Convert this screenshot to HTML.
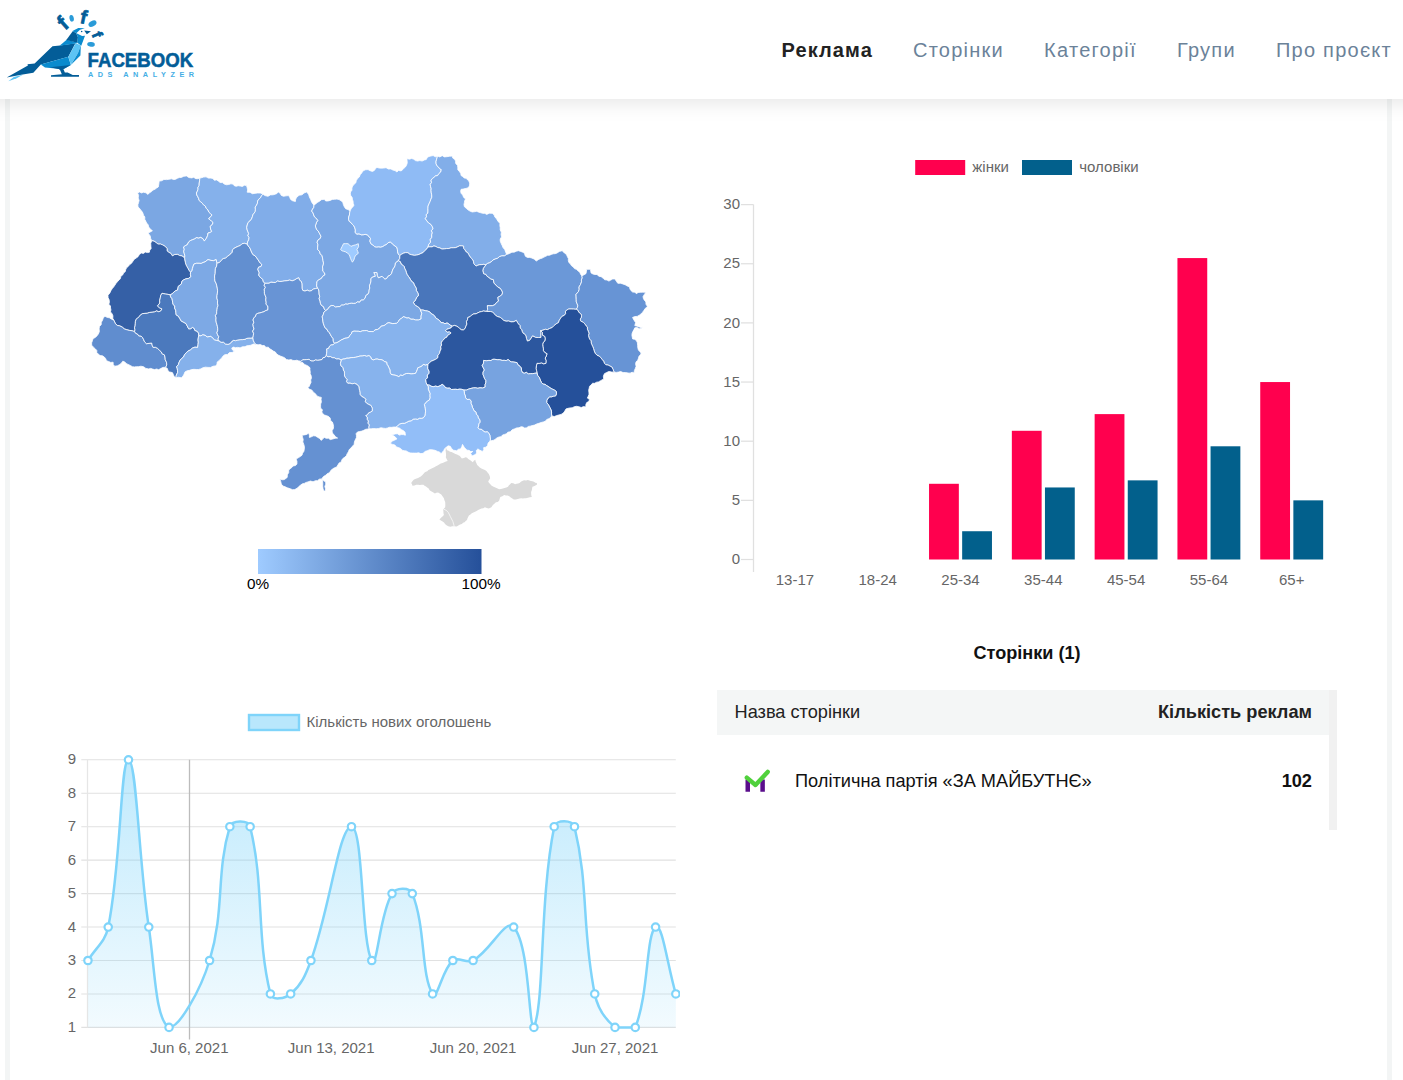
<!DOCTYPE html>
<html><head><meta charset="utf-8"><title>Facebook Ads Analyzer</title>
<style>
html,body{margin:0;padding:0;background:#fff;}
body{width:1403px;height:1080px;overflow:hidden;position:relative;font-family:"Liberation Sans",sans-serif;}
.abs{position:absolute;}
#hdr{left:-40px;top:0;width:1483px;height:99px;background:#fff;box-shadow:0 2px 21px rgba(0,0,0,.115);z-index:5;}
#hin{position:absolute;left:40px;top:0;width:1403px;height:99px;}
#nav{position:absolute;top:39px;right:11px;font-size:20px;letter-spacing:1.25px;color:#6b8299;white-space:nowrap;}
#nav span{margin-left:40.1px;}
#nav .on{color:#222;font-weight:bold;letter-spacing:1.1px;}
#bl,#br{top:99px;width:5px;height:981px;background:#f3f5f5;}
#bl{left:5px}#br{left:1387px}
#ttl{left:717px;width:620px;top:642.5px;text-align:center;font-weight:bold;font-size:18.1px;color:#111;}
#tbl{left:717px;top:690px;width:620px;height:140px;}
#th{left:0;top:0;width:612px;height:45px;background:#f4f6f6;}
#sb{left:612px;top:0;width:8px;height:140px;background:#f1f1f1;}
.t{font-size:18.2px;color:#111;white-space:nowrap;}
</style></head><body>
<div class="abs" id="bl"></div><div class="abs" id="br"></div>
<div class="abs" id="hdr"><div id="hin"><svg class="abs" style="left:0;top:0" width="220" height="99" viewBox="0 0 220 99" font-family="Liberation Sans, sans-serif">
<polygon points="8.33,81.25 13.75,77.08 22.92,74.83 16.67,78.17" fill="#5cc4f4"/>
<polygon points="52.50,46.25 60.00,45.42 75.42,43.33 68.33,56.67 40.83,64.58 33.33,72.67 21.25,74.75 6.67,77.50 27.92,65.42 27.50,64.17 34.58,63.50" fill="#035d98"/>
<polygon points="40.83,64.58 68.33,56.67 70.83,65.00 63.33,69.33 45.00,67.50" fill="#0a8bce"/>
<polygon points="50.00,67.33 70.83,65.00 62.08,69.83" fill="#035d98"/>
<polygon points="68.33,56.67 75.83,42.92 80.83,45.42 77.92,53.33 70.83,64.83" fill="#5cc4f4"/>
<polygon points="80.83,45.42 80.42,55.42 70.83,65.00 77.92,53.33" fill="#0a8bce"/>
<polygon points="59.58,45.67 66.67,39.83 77.50,42.50 75.42,43.50" fill="#0a8bce"/>
<polygon points="66.25,40.00 72.92,31.00 76.25,33.17 77.92,37.08 77.50,42.67" fill="#035d98"/>
<polygon points="76.00,33.00 82.08,36.00 85.00,35.67 81.25,45.67 77.33,42.67 77.92,37.08" fill="#0a8bce"/>
<polygon points="72.50,31.00 78.33,27.92 84.83,28.33 80.00,29.67 76.25,33.17" fill="#0a8bce"/>
<polygon points="84.17,30.42 91.00,31.25 86.83,34.33" fill="#035d98"/>
<polygon points="58.33,68.33 63.50,69.33 64.83,72.50 67.67,72.50 72.67,75.00 79.00,75.00 79.00,76.83 51.00,76.83 51.00,75.17 61.83,74.17 60.17,70.17" fill="#035d98"/>
<circle cx="81.67" cy="31.50" r="0.8" fill="#035d98"/>
<ellipse cx="71.67" cy="18.33" rx="2.17" ry="3.33" transform="rotate(-10 71.67 18.33)" fill="#2a9bd8"/>
<ellipse cx="92.50" cy="23.58" rx="4.33" ry="2.67" transform="rotate(-30 92.50 23.58)" fill="#2a9bd8"/>
<ellipse cx="91.00" cy="44.33" rx="3.83" ry="2.33" transform="rotate(5 91.00 44.33)" fill="#2a9bd8"/>
<text x="62.67" y="22.67" font-size="21" font-weight="bold" fill="#035d98" stroke="#035d98" stroke-width=".7" text-anchor="middle" transform="rotate(-42 62.67 22.67)" dy="7.56">f</text>
<text x="83.75" y="16.67" font-size="19" font-weight="bold" fill="#035d98" stroke="#035d98" stroke-width=".7" text-anchor="middle" transform="rotate(12 83.75 16.67)" dy="6.84">f</text>
<text x="97.33" y="34.58" font-size="15" font-weight="bold" fill="#035d98" stroke="#035d98" stroke-width=".7" text-anchor="middle" transform="rotate(68 97.33 34.58)" dy="5.40">f</text>
<text x="87.6" y="66.5" font-size="20.2" font-weight="bold" fill="#035d98" stroke="#035d98" stroke-width=".55" textLength="105.6" lengthAdjust="spacingAndGlyphs">FACEBOOK</text>
<text x="87.9" y="77" font-size="7.3" font-weight="bold" fill="#45aee5" textLength="106.2" lengthAdjust="spacing">ADS ANALYZER</text>
</svg>
<div id="nav"><span class="on">Реклама</span><span>Сторінки</span><span>Категорії</span><span>Групи</span><span>Про проєкт</span></div>
</div></div>
<svg class="abs" style="left:0;top:130px" width="700" height="480" viewBox="0 130 700 480">
<defs><linearGradient id="mg" x1="0" x2="1" y1="0" y2="0"><stop offset="0" stop-color="#9fcbff"/><stop offset="1" stop-color="#25509a"/></linearGradient></defs>
<g stroke="#fff" stroke-width=".8" stroke-linejoin="round">
<path d="M151.7,240.7 L150.66,238.39 L150.2,235.9 L148,233 L150.26,231.96 L152.4,230.7 L150.28,229.12 L148.7,227 L148.14,224.81 L146.65,223.09 L145.7,221.1 L144.72,219.23 L144.83,216.94 L143.5,215.2 L142.94,213.24 L142.07,211.45 L140.6,210 L139.5,208.33 L138,207 L137.87,204.72 L138.56,202.57 L139.1,200.4 L138.19,198.02 L138.56,195.37 L137.6,193 L139.46,191.96 L141.6,192.93 L143.5,192.2 L145.98,192.82 L148,194.4 L149.5,192.7 L151.53,191.62 L153.1,190 L154.97,189.24 L156.58,188.02 L158.3,187 L158.66,185.05 L158.97,183.09 L159.1,181.1 L161.6,180.76 L163.91,179.49 L166.5,179.6 L168.97,179.28 L171.43,178.83 L173.9,179.6 L175.78,179.15 L177.51,178.18 L179.33,177.55 L181.3,177.4 L183.8,176.3 L186.5,175.9 L188.85,177.56 L191.7,177.9 L193.74,177.36 L195.73,178.64 L197.76,178.69 L199.8,178.1 L199.58,180.6 L199.24,183.09 L199.1,185.6 L197.96,187.28 L198.02,189.4 L197.34,191.25 L196.4,193 L196.78,194.96 L197.77,196.69 L198.64,198.47 L199.1,200.4 L200.67,201.76 L202.23,203.14 L203.5,204.8 L205.4,206.19 L206.34,208.4 L208,210 L208.87,212.12 L210.5,213.65 L212.1,215.2 L210.24,216.9 L208.7,218.9 L210.33,219.93 L211.7,221.29 L213.1,222.6 L212.1,224.8 L210.2,226.3 L210.6,229 L211.7,231.5 L209.97,232.55 L208,233 L207.57,235.64 L206.5,238.1 L204.3,241.1 L202.99,238.71 L200.6,237.4 L198.66,238.15 L196.41,237.66 L194.6,238.9 L192.55,239.73 L190.48,240.53 L188.7,241.9 L187.2,244.8 L185.25,245.72 L183.5,247 L184.28,249.17 L183.7,251.51 L184.3,253.7 L184.83,255.77 L184.6,257.9 L182,255.9 L179.66,255.57 L177.6,254.4 L174.81,254.48 L172.4,255.9 L171.05,253.55 L168.7,252.2 L167.04,250.85 L167.18,248.46 L165.7,247 L164.17,245.74 L162.44,244.82 L160.6,244.1 L158.1,244.09 L156.1,242.6 L154.11,241.17 L151.7,240.7Z" fill="#7ba7e3"/>
<path d="M199.8,178.1 L201.67,177.67 L203.5,177.1 L206.05,176.85 L208.39,178.1 L210.9,178.1 L212.87,178.56 L214.34,180.25 L216.63,179.89 L218.3,181.1 L220.11,182.47 L222.54,182.62 L224.3,184.1 L226.53,184.74 L228.73,184.5 L230.9,183.8 L232.91,184.07 L234.26,185.68 L236.1,186.3 L238.15,185.71 L240.26,186.04 L242.38,186.44 L244.38,185.19 L246.5,185.6 L247.18,187.75 L247.65,189.93 L247.2,192.2 L249.99,192.28 L252.4,193.7 L255,193.35 L257.6,193 L260.31,193.02 L262.8,194.1 L261.5,195.85 L260.5,197.82 L258.72,199.22 L257.6,201.1 L257.45,203.26 L256.54,205.21 L255.22,207.05 L255.4,209.3 L255.27,211.4 L254.17,213.11 L252.89,214.74 L252.4,216.7 L251.47,219.06 L249.91,220.96 L248,222.6 L247.22,225.01 L246.7,227.45 L247.2,230 L247.95,231.78 L248.63,233.58 L247.89,235.74 L249.1,237.4 L248.73,239.71 L247.67,241.82 L247.2,244.1 L244.3,243.3 L242.02,243.74 L240.37,245.44 L238.3,246.3 L236.04,247.27 L233.9,248.5 L232.4,249.95 L232.28,252.18 L230.9,253.7 L229.15,255.15 L227.35,256.53 L225.7,258.1 L223.17,258.62 L221.3,260.4 L219.51,262.47 L216.9,263.3 L216.1,259.6 L213.61,260.68 L210.9,260.4 L208,259.6 L205,261.9 L203.07,262.5 L201.21,263.44 L199.1,263.3 L196.44,263.3 L193.9,264.1 L193.13,266.29 L192.4,268.5 L192.09,270.68 L190.5,272.2 L189.05,270.48 L188,268.5 L186.75,266.35 L185.7,264.1 L185.26,262.05 L184.72,260.01 L184.6,257.9 L184.83,255.77 L184.3,253.7 L183.7,251.51 L184.28,249.17 L183.5,247 L185.25,245.72 L187.2,244.8 L188.7,241.9 L190.48,240.53 L192.55,239.73 L194.6,238.9 L196.41,237.66 L198.66,238.15 L200.6,237.4 L202.99,238.71 L204.3,241.1 L206.5,238.1 L207.57,235.64 L208,233 L209.97,232.55 L211.7,231.5 L210.6,229 L210.2,226.3 L212.1,224.8 L213.1,222.6 L211.7,221.29 L210.33,219.93 L208.7,218.9 L210.24,216.9 L212.1,215.2 L210.5,213.65 L208.87,212.12 L208,210 L206.34,208.4 L205.4,206.19 L203.5,204.8 L202.23,203.14 L200.67,201.76 L199.1,200.4 L198.64,198.47 L197.77,196.69 L196.78,194.96 L196.4,193 L197.34,191.25 L198.02,189.4 L197.96,187.28 L199.1,185.6 L199.24,183.09 L199.58,180.6 L199.8,178.1Z" fill="#85b1eb"/>
<path d="M113.9,320.3 L112.8,318.3 L112.92,315.81 L112.03,313.72 L110.5,311.9 L110.95,309.88 L110.52,307.97 L110.44,306.01 L108.83,304.23 L109.4,302.2 L109.13,299.83 L108.07,297.61 L108,295.2 L109.76,293.15 L110.9,290.7 L112.11,288.79 L113.58,287.06 L114.86,285.19 L116.1,283.3 L117.43,281.65 L118.99,280.17 L120.43,278.6 L120.83,276.29 L122.66,275 L123.5,273 L125.19,271.72 L125.72,269.62 L126.55,267.73 L128.22,266.44 L129.4,264.8 L131.37,263.42 L132.78,261.48 L134.07,259.42 L136.1,258.1 L138.06,256.63 L139.37,254.5 L141.3,253 L143.39,253.41 L145.3,252.07 L147.39,252.55 L149.4,252.2 L149.72,250.19 L151.15,248.46 L150.9,246.3 L150.73,243.42 L151.7,240.7 L154.11,241.17 L156.1,242.6 L158.1,244.09 L160.6,244.1 L162.44,244.82 L164.17,245.74 L165.7,247 L167.18,248.46 L167.04,250.85 L168.7,252.2 L171.05,253.55 L172.4,255.9 L174.81,254.48 L177.6,254.4 L179.66,255.57 L182,255.9 L184.6,257.9 L184.72,260.01 L185.26,262.05 L185.7,264.1 L186.75,266.35 L188,268.5 L189.05,270.48 L190.5,272.2 L190.41,274.48 L190.9,276.7 L188.55,278.4 L185.7,278.9 L183.75,279.84 L182,281.1 L181.3,284.1 L178.3,286.3 L177.6,290 L175.55,290.79 L173.82,292.03 L172.4,293.7 L170.2,294.8 L167.96,294.37 L165.7,294.1 L162,293.3 L160.78,295.41 L160.3,297.8 L159.66,300.36 L159.8,303 L157.6,305.9 L159.47,307.88 L162,308.9 L160.6,311.1 L158.65,311.71 L156.5,310.89 L154.6,311.9 L152.11,312.26 L149.59,312.44 L147.2,313.3 L144.91,313.4 L142.65,313.63 L140.6,314.8 L139.36,316.56 L137.75,317.95 L136.1,319.3 L135.42,321.45 L135.3,323.68 L135.1,325.9 L134.53,327.76 L134.98,329.72 L134.6,331.6 L132.05,330.78 L129.4,330.4 L126.82,329.76 L124.3,328.9 L122.25,327.1 L119.8,325.9 L117.29,325.42 L115.4,323.7 L113.9,320.3Z" fill="#3560a6"/>
<path d="M113.9,320.3 L111.61,319.13 L109.4,317.8 L107.09,317.36 L105,316.3 L103.21,317.92 L102.55,320.25 L101.3,322.2 L101.19,324.64 L99.45,326.54 L99.1,328.9 L99.37,331.6 L98.3,334.1 L96.87,335.93 L95.27,337.55 L93.1,338.5 L92.43,340.69 L91.63,342.85 L91.7,345.2 L93.42,347.18 L95.4,348.9 L96.75,350.42 L96.85,352.64 L98.3,354.1 L100.04,355.6 L102.42,355.79 L104.3,357 L105.71,358.66 L106.5,360.7 L108.64,361.47 L110.73,362.44 L113.1,362.2 L113.23,364.43 L114.6,366.2 L117.4,365.87 L119.8,364.4 L121.55,363.04 L122.8,361.2 L124.76,361.9 L126.17,363.49 L128,364.4 L130.25,365.45 L132.4,366.7 L134.37,366.92 L136.33,366.68 L138.3,366.7 L140.9,366.23 L143.5,366.7 L145.85,368.39 L148.7,368.9 L150.75,368.4 L152.66,369.11 L154.6,369.6 L156.56,369 L158.72,369.67 L160.6,368.6 L163.01,367.4 L165.7,367.4 L166.78,364.9 L166.5,362.2 L165.25,359.74 L165,357 L164.38,354.86 L162.19,353.85 L161.3,351.9 L159.41,350.19 L157.6,348.4 L155.49,347.28 L153.1,347.4 L152.18,345.27 L151.7,343 L149.1,343.34 L146.5,343.7 L144.55,341.81 L143.5,339.3 L142.51,337.45 L141.06,336.12 L138.73,335.79 L137.6,334.1 L135.71,333.31 L134.6,331.6 L132.05,330.78 L129.4,330.4 L126.82,329.76 L124.3,328.9 L122.25,327.1 L119.8,325.9 L117.29,325.42 L115.4,323.7 L113.9,320.3Z" fill="#608dcf"/>
<path d="M165.7,367.4 L167.42,368.5 L167.92,370.61 L169.4,371.9 L172.4,372.6 L173.33,374.47 L174.08,376.45 L175.8,377.8 L176.34,375.07 L177.6,372.6 L177.56,370.58 L177.22,368.62 L176.6,366.7 L178.34,364.72 L179.1,362.2 L180.18,360.14 L181.7,358.45 L183.5,357 L184.55,354.69 L186.15,352.8 L188,351.1 L190.41,349.91 L192.4,348.1 L194.92,347.16 L197.6,347.4 L198,344.81 L198.3,342.2 L198.01,339.97 L198.31,337.78 L198.8,335.6 L198.54,333.06 L196.9,331.1 L194.9,330.47 L194.14,328.34 L192.4,327.4 L190.76,328.66 L188.7,328.9 L187.2,325.9 L185.9,323.5 L183.5,322.2 L181.1,320.9 L179.8,318.5 L178.38,316.22 L176.1,314.8 L175.88,312.5 L175.66,310.21 L174.6,308.1 L174.82,306.02 L173.1,304.52 L172.7,302.62 L172.4,300.7 L171.98,298.62 L170.6,296.89 L170.2,294.8 L167.96,294.37 L165.7,294.1 L162,293.3 L160.78,295.41 L160.3,297.8 L159.66,300.36 L159.8,303 L157.6,305.9 L159.47,307.88 L162,308.9 L160.6,311.1 L158.65,311.71 L156.5,310.89 L154.6,311.9 L152.11,312.26 L149.59,312.44 L147.2,313.3 L144.91,313.4 L142.65,313.63 L140.6,314.8 L139.36,316.56 L137.75,317.95 L136.1,319.3 L135.42,321.45 L135.3,323.68 L135.1,325.9 L134.53,327.76 L134.98,329.72 L134.6,331.6 L135.71,333.31 L137.6,334.1 L138.73,335.79 L141.06,336.12 L142.51,337.45 L143.5,339.3 L144.55,341.81 L146.5,343.7 L149.1,343.34 L151.7,343 L152.18,345.27 L153.1,347.4 L155.49,347.28 L157.6,348.4 L159.41,350.19 L161.3,351.9 L162.19,353.85 L164.38,354.86 L165,357 L165.25,359.74 L166.5,362.2 L166.78,364.9 L165.7,367.4Z" fill="#4b79bd"/>
<path d="M190.5,272.2 L192.09,270.68 L192.4,268.5 L193.13,266.29 L193.9,264.1 L196.44,263.3 L199.1,263.3 L201.21,263.44 L203.07,262.5 L205,261.9 L208,259.6 L210.9,260.4 L213.61,260.68 L216.1,259.6 L216.9,263.3 L216.67,266.05 L215.4,268.5 L215.25,270.98 L215.19,273.47 L214.6,275.9 L214.68,278.45 L214.88,280.98 L216.1,283.3 L216.81,285.72 L217.31,288.19 L217.6,290.7 L217.42,293.17 L217.02,295.62 L216.9,298.1 L217.61,300.55 L217.48,303.12 L218,305.6 L217.31,307.55 L217.02,309.62 L216.69,311.67 L216.64,313.79 L215.4,315.6 L216.12,317.74 L215.92,320.04 L216.21,322.25 L216.9,324.4 L217.43,326.45 L217.72,328.52 L217.7,330.61 L216.9,332.76 L217.6,334.8 L218.8,336.7 L217.96,339.09 L219.1,341 L216.86,340.47 L214.6,340 L212.69,338.21 L210.9,336.3 L207.2,337 L205.26,335.38 L202.8,334.8 L200.93,335.85 L198.8,335.6 L198.54,333.06 L196.9,331.1 L194.9,330.47 L194.14,328.34 L192.4,327.4 L190.76,328.66 L188.7,328.9 L187.2,325.9 L185.9,323.5 L183.5,322.2 L181.1,320.9 L179.8,318.5 L178.38,316.22 L176.1,314.8 L175.88,312.5 L175.66,310.21 L174.6,308.1 L174.82,306.02 L173.1,304.52 L172.7,302.62 L172.4,300.7 L171.98,298.62 L170.6,296.89 L170.2,294.8 L172.4,293.7 L173.82,292.03 L175.55,290.79 L177.6,290 L178.3,286.3 L181.3,284.1 L182,281.1 L183.75,279.84 L185.7,278.9 L188.55,278.4 L190.9,276.7 L190.41,274.48 L190.5,272.2Z" fill="#7da9e5"/>
<path d="M175.8,377.8 L178.55,377.21 L181.3,377.8 L183,376.13 L184.12,374.09 L185,371.9 L187.11,370.76 L189.46,370.36 L191.7,369.6 L193.92,369.34 L196.17,369.49 L198.41,369.54 L200.6,368.9 L202.94,367.76 L205.38,367.16 L208,367.4 L210.57,367.43 L212.91,366.29 L215.4,365.9 L216.98,364.41 L217.22,361.97 L219.1,360.7 L220.27,359.18 L221.84,357.99 L222.8,356.3 L224.79,354.69 L227.55,354.45 L229.4,352.6 L232.18,352.47 L234.6,351.1 L232.61,350.12 L231.7,348.1 L233.58,347.11 L235.64,347.7 L237.6,347.4 L240.13,347.87 L242.52,346.74 L245,346.7 L246.85,345.76 L248.9,345.58 L250.9,345.2 L253.33,344.06 L256,344.4 L254.32,342.5 L253.27,340.31 L252.9,337.8 L250.91,338.09 L248.86,338.07 L246.86,338.34 L245,339.3 L242.54,339.58 L240.06,339.65 L237.6,340 L235.67,340.64 L233.5,340.35 L231.7,341.5 L230.24,343.44 L228,344.4 L225.43,343.94 L223.5,342.2 L221.12,342.26 L219.1,341 L216.86,340.47 L214.6,340 L212.69,338.21 L210.9,336.3 L207.2,337 L205.26,335.38 L202.8,334.8 L200.93,335.85 L198.8,335.6 L198.31,337.78 L198.01,339.97 L198.3,342.2 L198,344.81 L197.6,347.4 L194.92,347.16 L192.4,348.1 L190.41,349.91 L188,351.1 L186.15,352.8 L184.55,354.69 L183.5,357 L181.7,358.45 L180.18,360.14 L179.1,362.2 L178.34,364.72 L176.6,366.7 L177.22,368.62 L177.56,370.58 L177.6,372.6 L176.34,375.07 L175.8,377.8Z" fill="#85b1eb"/>
<path d="M216.9,263.3 L219.51,262.47 L221.3,260.4 L223.17,258.62 L225.7,258.1 L227.35,256.53 L229.15,255.15 L230.9,253.7 L232.28,252.18 L232.4,249.95 L233.9,248.5 L236.04,247.27 L238.3,246.3 L240.37,245.44 L242.02,243.74 L244.3,243.3 L247.2,244.1 L248.32,246.12 L249.87,247.9 L250.76,250.03 L251.6,252.2 L252.86,254.47 L255.1,255.84 L256.7,257.8 L257.88,259.52 L259,261.29 L260.22,262.99 L261.8,264.4 L261.03,266.49 L258.57,267.2 L257.8,269.3 L258.46,271.1 L259.28,272.86 L258.71,274.96 L259.6,276.7 L261.35,278.01 L262.78,279.57 L263.42,281.77 L264.9,283.3 L264.14,285.27 L265.42,287.34 L264.29,289.28 L264.41,291.3 L264.4,293.3 L265.23,295.45 L266.02,297.6 L265.78,299.97 L266.2,302.2 L266,304.27 L267.76,305.94 L267.97,307.93 L267.8,310 L265.77,310.57 L263.93,311.72 L261.91,312.32 L259.9,312.95 L257.8,313.3 L256.05,314.43 L255.44,316.57 L253.8,317.8 L253.02,319.99 L253.82,322.27 L252.94,324.45 L253.3,326.7 L254.02,328.95 L252.63,331.12 L253.6,333.38 L253.32,335.59 L252.9,337.8 L250.91,338.09 L248.86,338.07 L246.86,338.34 L245,339.3 L242.54,339.58 L240.06,339.65 L237.6,340 L235.67,340.64 L233.5,340.35 L231.7,341.5 L230.24,343.44 L228,344.4 L225.43,343.94 L223.5,342.2 L221.12,342.26 L219.1,341 L217.96,339.09 L218.8,336.7 L217.6,334.8 L216.9,332.76 L217.7,330.61 L217.72,328.52 L217.43,326.45 L216.9,324.4 L216.21,322.25 L215.92,320.04 L216.12,317.74 L215.4,315.6 L216.64,313.79 L216.69,311.67 L217.02,309.62 L217.31,307.55 L218,305.6 L217.48,303.12 L217.61,300.55 L216.9,298.1 L217.02,295.62 L217.42,293.17 L217.6,290.7 L217.31,288.19 L216.81,285.72 L216.1,283.3 L214.88,280.98 L214.68,278.45 L214.6,275.9 L215.19,273.47 L215.25,270.98 L215.4,268.5 L216.67,266.05 L216.9,263.3Z" fill="#628fd0"/>
<path d="M262.8,194.1 L265,195.6 L268,196.3 L270.36,194.9 L273.1,194.8 L275.04,194.21 L276.93,193.53 L278.3,191.9 L280.12,193.26 L281.31,195.38 L283.5,196.3 L286.08,195.84 L288.7,195.6 L289.78,197.41 L290.62,199.39 L292.4,200.7 L295.4,201.5 L295.7,199.1 L296.9,197 L299.16,195.22 L302,194.8 L303.98,193.01 L306.5,192.1 L308.59,194.17 L309.4,197 L310.64,199.56 L311.7,202.2 L313.9,205.2 L313.81,207.41 L312.53,209.17 L311.7,211.1 L313.03,212.89 L313.71,214.99 L314.6,217 L316.59,218.59 L318,220.7 L316.62,222.17 L316.18,224.12 L315.4,225.9 L316.03,227.82 L316.74,229.7 L318.3,231.1 L319.21,232.83 L320.14,234.54 L321,236.3 L320.2,238.59 L318.02,239.98 L317.1,242.2 L317.95,244.62 L317.65,247.12 L317.6,249.6 L319.5,251.29 L320.24,253.82 L322,255.6 L322.57,258.05 L322.99,260.53 L323.5,263 L323.22,264.96 L322.49,266.87 L322.8,268.9 L322.81,271.13 L324.46,272.76 L325,274.8 L322.72,276.22 L321.3,278.5 L318.91,279.72 L316.9,281.5 L316.82,283.73 L316.61,285.98 L317.6,288.1 L315.46,288.61 L313.28,289.01 L311.58,290.7 L309.4,291.1 L307.28,290.14 L304.95,291.08 L302.8,290.4 L301.99,288.25 L301.97,285.96 L301.89,283.69 L301.3,281.5 L299.42,280.07 L298.8,277.8 L296.57,278.66 L294.6,280 L292.19,280.81 L289.63,280.09 L287.2,280.7 L284.72,280.86 L282.28,281.36 L279.8,281.5 L277.53,281.05 L275.4,282.5 L273.16,282.42 L270.9,282.2 L269.03,283.26 L266.97,283.31 L264.9,283.3 L263.42,281.77 L262.78,279.57 L261.35,278.01 L259.6,276.7 L258.71,274.96 L259.28,272.86 L258.46,271.1 L257.8,269.3 L258.57,267.2 L261.03,266.49 L261.8,264.4 L260.22,262.99 L259,261.29 L257.88,259.52 L256.7,257.8 L255.1,255.84 L252.86,254.47 L251.6,252.2 L250.76,250.03 L249.87,247.9 L248.32,246.12 L247.2,244.1 L247.67,241.82 L248.73,239.71 L249.1,237.4 L247.89,235.74 L248.63,233.58 L247.95,231.78 L247.2,230 L246.7,227.45 L247.22,225.01 L248,222.6 L249.91,220.96 L251.47,219.06 L252.4,216.7 L252.89,214.74 L254.17,213.11 L255.27,211.4 L255.4,209.3 L255.22,207.05 L256.54,205.21 L257.45,203.26 L257.6,201.1 L258.72,199.22 L260.5,197.82 L261.5,195.85 L262.8,194.1Z" fill="#81ade9"/>
<path d="M264.9,283.3 L266.97,283.31 L269.03,283.26 L270.9,282.2 L273.16,282.42 L275.4,282.5 L277.53,281.05 L279.8,281.5 L282.28,281.36 L284.72,280.86 L287.2,280.7 L289.63,280.09 L292.19,280.81 L294.6,280 L296.57,278.66 L298.8,277.8 L299.42,280.07 L301.3,281.5 L301.89,283.69 L301.97,285.96 L301.99,288.25 L302.8,290.4 L304.95,291.08 L307.28,290.14 L309.4,291.1 L311.58,290.7 L313.28,289.01 L315.46,288.61 L317.6,288.1 L318.76,289.94 L319.04,291.99 L319.1,294.1 L319.74,296.36 L319.12,298.79 L320.08,301 L320.4,303.3 L321.41,305.35 L323.52,306.63 L324.29,308.86 L325.6,310.7 L323.82,312.33 L323.25,314.65 L322.2,316.7 L322.61,318.89 L322.9,321.11 L323.3,323.3 L324.05,325.46 L324.87,327.59 L326.79,329.09 L327.8,331.1 L329.42,332.72 L330.5,334.72 L331.6,336.7 L333.17,338.63 L333.26,341.19 L334.4,343.3 L333.17,344.84 L330.91,344.98 L329.49,346.27 L328.67,348.37 L326.7,348.9 L326.85,351.16 L326.6,353.38 L326.2,355.6 L325.07,357.3 L323.02,357.68 L322,359.53 L320,360 L317.76,360.34 L315.41,359.98 L313.3,361.1 L311.03,360.93 L309.07,359.36 L306.7,359.6 L304.71,359.76 L302.68,359.75 L301,361.48 L298.9,361.1 L296.97,360.2 L294.91,360.61 L292.9,360.42 L290.97,359.59 L288.9,360 L286.4,359.43 L284.49,357.68 L282.2,356.7 L280.16,355.99 L278.24,355.09 L276.54,353.85 L275.26,351.93 L273.3,351.1 L271.64,349.8 L269.78,348.83 L268.35,347.18 L265.8,347.31 L264.4,345.6 L262.27,345.52 L260.27,344.53 L258.08,344.83 L256,344.4 L254.32,342.5 L253.27,340.31 L252.9,337.8 L253.32,335.59 L253.6,333.38 L252.63,331.12 L254.02,328.95 L253.3,326.7 L252.94,324.45 L253.82,322.27 L253.02,319.99 L253.8,317.8 L255.44,316.57 L256.05,314.43 L257.8,313.3 L259.9,312.95 L261.91,312.32 L263.93,311.72 L265.77,310.57 L267.8,310 L267.97,307.93 L267.76,305.94 L266,304.27 L266.2,302.2 L265.78,299.97 L266.02,297.6 L265.23,295.45 L264.4,293.3 L264.41,291.3 L264.29,289.28 L265.42,287.34 L264.14,285.27 L264.9,283.3Z" fill="#6894d5"/>
<path d="M313.9,205.2 L315.67,204.02 L317.17,202.46 L319.1,201.5 L321.41,199.71 L324.3,199.3 L325.7,201 L327.98,200.94 L330.2,200.4 L332.29,199.4 L334.6,199.3 L336.88,199.06 L339.1,199.6 L341.04,200.77 L342.8,202.2 L343.34,204.52 L344.3,206.7 L345.67,208.77 L348,209.6 L350.2,210.8 L349.63,212.85 L349.44,214.99 L348.7,217 L348.5,219.33 L349.4,221.5 L351.14,222.72 L352.39,224.45 L353.9,225.9 L354.81,227.87 L355.38,229.96 L355.2,232.29 L356.6,234.1 L359.04,233.82 L361.3,234.8 L363.27,234.71 L365.23,234.36 L367.2,234.8 L369.03,236.49 L370.5,238.5 L369.9,241.16 L370.9,243.7 L372.92,244.99 L374.6,246.7 L376.59,246.97 L378.61,246.77 L380.6,247 L382.72,246.47 L384.5,245.19 L386.5,244.4 L388.05,242.71 L390.2,241.9 L392.12,243.47 L393.9,245.2 L396.9,247.4 L397.4,249.63 L397.6,251.9 L398.3,253.99 L399.8,255.6 L399.8,258.37 L398.3,260.7 L395.4,263 L395.21,265.19 L394.42,267.15 L393.1,268.9 L392.25,271.05 L391.7,273.3 L390.17,275.2 L388,276.3 L386.92,278.22 L385,279.3 L383.46,277.84 L382,276.3 L380.2,277.17 L378.3,277.8 L377.16,275.32 L376.9,272.6 L373.9,272.6 L374.81,274.38 L375.4,276.3 L372.91,276.91 L370.9,278.5 L370.98,281.08 L370.39,283.53 L369.4,285.9 L369.79,288.08 L369.11,290.07 L368.99,292.16 L368,294.1 L365.83,295.58 L365.1,298.22 L363.3,300 L361.07,300.11 L359.68,302.19 L357.27,301.88 L355.6,303.3 L353.6,303.43 L351.58,303.28 L349.58,303.46 L347.63,304.23 L345.6,304 L343.79,305.08 L341.61,305.08 L339.94,306.58 L337.8,306.7 L335.44,307.1 L333.4,305.54 L331.1,305.6 L329.12,307.14 L327.69,309.28 L325.6,310.7 L324.29,308.86 L323.52,306.63 L321.41,305.35 L320.4,303.3 L320.08,301 L319.12,298.79 L319.74,296.36 L319.1,294.1 L319.04,291.99 L318.76,289.94 L317.6,288.1 L316.61,285.98 L316.82,283.73 L316.9,281.5 L318.91,279.72 L321.3,278.5 L322.72,276.22 L325,274.8 L324.46,272.76 L322.81,271.13 L322.8,268.9 L322.49,266.87 L323.22,264.96 L323.5,263 L322.99,260.53 L322.57,258.05 L322,255.6 L320.24,253.82 L319.5,251.29 L317.6,249.6 L317.65,247.12 L317.95,244.62 L317.1,242.2 L318.02,239.98 L320.2,238.59 L321,236.3 L320.14,234.54 L319.21,232.83 L318.3,231.1 L316.74,229.7 L316.03,227.82 L315.4,225.9 L316.18,224.12 L316.62,222.17 L318,220.7 L316.59,218.59 L314.6,217 L313.71,214.99 L313.03,212.89 L311.7,211.1 L312.53,209.17 L313.81,207.41 L313.9,205.2Z" fill="#7ca8e4"/>
<path d="M350.2,210.8 L351.08,208.7 L352.73,207.11 L353.9,205.2 L353.2,203.28 L353.06,201.23 L352.4,199.3 L352.15,197.4 L350.82,195.76 L350.29,193.93 L350.6,191.9 L351.92,190.24 L351.9,187.99 L352.69,186.1 L353.9,184.4 L355.81,182.85 L356.33,180.44 L357.6,178.5 L359.34,176.96 L360.17,174.78 L361.68,173.08 L362.8,171.1 L365.25,169.81 L368,169.6 L370.12,170.7 L372.4,171.4 L374.29,170.51 L375.42,168.76 L376.9,167.4 L379.06,168.02 L381.27,168.14 L383.5,168.1 L386.04,167.67 L388.39,169.04 L390.9,168.9 L392.83,170.03 L395.04,170.62 L396.9,171.9 L398.59,170.43 L401.05,170.91 L402.8,169.6 L404,168.11 L405.53,166.89 L406.5,165.2 L407.24,163 L407.11,160.75 L406.9,158.5 L409.3,159.17 L411.7,158.5 L413.73,159.18 L415.45,160.61 L417.6,161 L419.82,160.58 L422.17,161.02 L424.3,160 L426.26,159.52 L427.27,157.45 L428.95,156.5 L430.9,156 L433.13,155.55 L435.37,156.74 L437.6,156 L437.03,157.89 L436.47,159.78 L436.01,161.68 L436.1,163.7 L436.87,165.64 L438.41,166.9 L439.49,168.57 L441.3,169.6 L440.71,172 L438.88,173.63 L437.6,175.6 L435.52,175.95 L434.02,177.33 L432.4,178.5 L431.07,180.24 L431.51,182.65 L430.2,184.4 L430.55,186.47 L431.2,188.5 L431.03,190.65 L431.28,192.74 L431.7,194.8 L431.8,197.24 L430.84,199.38 L430.09,201.57 L429.1,203.7 L428.07,206.07 L427.95,208.57 L428,211.1 L427.84,213.14 L426.2,214.64 L426.52,216.85 L425.3,218.5 L426.85,220.86 L428.7,223 L430.97,224.43 L432.4,226.7 L433.02,228.79 L431.46,230.7 L432.34,232.82 L431.7,234.8 L431.78,237.33 L430.2,239.62 L430.6,242.2 L428.78,244.32 L428,247 L426.46,249.33 L424.3,251.1 L422.91,252.74 L420.92,253.44 L419.1,254.4 L416.66,255.08 L414.2,255.36 L411.7,254.8 L409.65,254.21 L407.93,252.71 L405.7,252.6 L403.52,253.17 L401.57,254.22 L399.8,255.6 L398.3,253.99 L397.6,251.9 L397.4,249.63 L396.9,247.4 L393.9,245.2 L392.12,243.47 L390.2,241.9 L388.05,242.71 L386.5,244.4 L384.5,245.19 L382.72,246.47 L380.6,247 L378.61,246.77 L376.59,246.97 L374.6,246.7 L372.92,244.99 L370.9,243.7 L369.9,241.16 L370.5,238.5 L369.03,236.49 L367.2,234.8 L365.23,234.36 L363.27,234.71 L361.3,234.8 L359.04,233.82 L356.6,234.1 L355.2,232.29 L355.38,229.96 L354.81,227.87 L353.9,225.9 L352.39,224.45 L351.14,222.72 L349.4,221.5 L348.5,219.33 L348.7,217 L349.44,214.99 L349.63,212.85 L350.2,210.8Z" fill="#8fbbf5"/>
<path d="M437.6,156 L439.82,156.94 L442.2,155.64 L444.4,156.88 L446.7,156.7 L449.45,156.32 L452.2,156 L452.75,158.09 L454.59,159.32 L455.6,161.1 L455.7,163.54 L457.58,165.4 L457.8,167.8 L457.9,170.06 L459.58,171.65 L460.74,173.45 L461.1,175.6 L462.8,176.5 L464.1,177.97 L466.21,178.29 L467.44,179.85 L468.9,181.1 L469.68,183.1 L469.59,185.1 L468.9,187.1 L467.09,188.16 L465.12,188.61 L463.15,189.1 L461.1,189.3 L460.65,191.3 L461.1,193.3 L462.7,195.08 L463.65,197.39 L465.6,198.9 L464.67,200.75 L464.38,202.7 L463.99,204.64 L464.4,206.7 L466.19,208.26 L467.96,209.85 L470,211.1 L472.15,211.98 L474.44,211.72 L476.75,211.36 L478.9,212.2 L480.84,212.78 L482.79,213.35 L484.89,213.36 L486.7,214.4 L489.32,213.21 L492.2,213.3 L494.09,214.85 L494.95,217.23 L496.7,218.9 L497.95,221.4 L500,223.3 L499.82,225.54 L500.25,227.76 L500.2,230 L501.39,232.16 L501.1,234.6 L501.59,236.88 L500.25,238.9 L500.2,241.1 L501.09,243.29 L502.13,245.41 L503,247.6 L504.8,249.63 L505.7,252.2 L506.7,254.4 L504.4,255.9 L501.78,255.88 L499.3,256.7 L497.71,258.24 L495.6,258.9 L493.05,259.95 L491.1,261.9 L489.37,262.87 L487.43,263.47 L485.9,264.8 L483.87,264.33 L481.83,264.64 L479.8,264.7 L477.87,265.19 L476.1,266.1 L473.8,263.8 L473.35,261.07 L471.9,258.7 L469.99,256.84 L468.7,254.5 L467.76,252.73 L465.93,251.68 L465,249.9 L463.56,248.33 L463.6,246.2 L461.62,245.84 L459.67,245.79 L457.8,246.7 L455.66,247.63 L453.39,247.79 L451.1,247.8 L448.93,248.54 L446.64,248.57 L444.4,248.9 L441.95,249.08 L439.8,247.9 L437.72,247.55 L435.89,246.5 L433.9,245.9 L432.05,246.88 L430,246.82 L428,247 L428.78,244.32 L430.6,242.2 L430.2,239.62 L431.78,237.33 L431.7,234.8 L432.34,232.82 L431.46,230.7 L433.02,228.79 L432.4,226.7 L430.97,224.43 L428.7,223 L426.85,220.86 L425.3,218.5 L426.52,216.85 L426.2,214.64 L427.84,213.14 L428,211.1 L427.95,208.57 L428.07,206.07 L429.1,203.7 L430.09,201.57 L430.84,199.38 L431.8,197.24 L431.7,194.8 L431.28,192.74 L431.03,190.65 L431.2,188.5 L430.55,186.47 L430.2,184.4 L431.51,182.65 L431.07,180.24 L432.4,178.5 L434.02,177.33 L435.52,175.95 L437.6,175.6 L438.88,173.63 L440.71,172 L441.3,169.6 L439.49,168.57 L438.41,166.9 L436.87,165.64 L436.1,163.7 L436.01,161.68 L436.47,159.78 L437.03,157.89 L437.6,156Z" fill="#82aee9"/>
<path d="M399.8,255.6 L401.57,254.22 L403.52,253.17 L405.7,252.6 L407.93,252.71 L409.65,254.21 L411.7,254.8 L414.2,255.36 L416.66,255.08 L419.1,254.4 L420.92,253.44 L422.91,252.74 L424.3,251.1 L426.46,249.33 L428,247 L430,246.82 L432.05,246.88 L433.9,245.9 L435.89,246.5 L437.72,247.55 L439.8,247.9 L441.95,249.08 L444.4,248.9 L446.64,248.57 L448.93,248.54 L451.1,247.8 L453.39,247.79 L455.66,247.63 L457.8,246.7 L459.67,245.79 L461.62,245.84 L463.6,246.2 L463.56,248.33 L465,249.9 L465.93,251.68 L467.76,252.73 L468.7,254.5 L469.99,256.84 L471.9,258.7 L473.35,261.07 L473.8,263.8 L476.1,266.1 L477.87,265.19 L479.8,264.7 L481.83,264.64 L483.87,264.33 L485.9,264.8 L484.67,266.64 L483.4,268.45 L483,270.7 L483.7,273.7 L485.89,274.29 L487.08,276.28 L488.9,277.4 L490.86,278.97 L493.3,279.6 L494.1,283.3 L496.03,285.07 L497.8,287 L500.02,288.04 L501.5,290 L502.49,292.1 L502.2,294.4 L500.12,296.08 L497.8,297.4 L498.5,301.1 L496.38,302.68 L494.8,304.8 L492.4,305.71 L489.91,305.76 L487.4,305.6 L487.46,307.6 L487.58,309.61 L486.7,311.5 L483.5,311 L481.68,311.59 L479.8,311.9 L477.92,312.79 L476.1,313.8 L473.63,313.95 L471.5,315.2 L469.92,316.79 L467.8,317.5 L467.52,319.74 L466.4,321.7 L466.9,324.08 L465.9,326.3 L465.1,328.5 L463.3,330 L461.26,329.73 L459.73,328.58 L458.36,327.13 L456.7,326.2 L454.45,325.42 L452.2,326.2 L450.44,325.27 L448.9,324 L447.07,322.94 L444.94,323.73 L443.1,322.73 L441.1,322.7 L439.67,320.61 L437.66,319.18 L435.6,317.8 L434.55,315.87 L432.93,314.6 L431.09,313.58 L429.8,311.93 L427.8,311.1 L425.34,310.71 L422.92,310.01 L420.4,310 L419.46,308 L417.71,306.75 L415.76,305.66 L414.3,304.14 L413.3,302.2 L414.93,300.97 L415.83,299.17 L416.65,297.3 L418.2,296 L418.3,294.1 L417.51,292.28 L416.33,290.61 L416.32,288.48 L415.4,286.7 L414.25,284.9 L413.56,282.79 L411.7,281.5 L410.6,279.77 L409.56,277.99 L408.4,276.3 L407.07,274.53 L406.35,272.48 L405.7,270.4 L404.79,268.64 L404.26,266.66 L402.8,265.2 L401.08,263.92 L400.32,261.68 L398.3,260.7 L399.8,258.37 L399.8,255.6Z" fill="#4976bb"/>
<path d="M398.3,260.7 L400.32,261.68 L401.08,263.92 L402.8,265.2 L404.26,266.66 L404.79,268.64 L405.7,270.4 L406.35,272.48 L407.07,274.53 L408.4,276.3 L409.56,277.99 L410.6,279.77 L411.7,281.5 L413.56,282.79 L414.25,284.9 L415.4,286.7 L416.32,288.48 L416.33,290.61 L417.51,292.28 L418.3,294.1 L418.2,296 L416.65,297.3 L415.83,299.17 L414.93,300.97 L413.3,302.2 L414.3,304.14 L415.76,305.66 L417.71,306.75 L419.46,308 L420.4,310 L421.8,313.3 L421.07,316.05 L421.1,318.9 L418.46,320.02 L415.6,320 L413.38,319.23 L410.9,319.24 L408.9,317.8 L406.91,318.08 L405.13,317.24 L403.3,316.7 L401.58,318.28 L399.55,319.55 L398.32,321.62 L396.7,323.3 L394.73,323.44 L392.75,323.64 L390.82,323.22 L388.9,322.7 L386.83,323.3 L385.26,325.04 L383.25,325.78 L381.1,326.2 L379.59,328.19 L377.57,329.44 L375.02,329.92 L373.3,331.6 L371.06,331.56 L368.81,331.56 L366.66,330.58 L364.4,330.7 L362.37,330.86 L360.38,331.65 L358.31,331.28 L356.26,331.26 L354.21,331.14 L352.2,331.6 L351.49,333.73 L349.87,335.32 L348.9,337.3 L346.96,337.99 L344.87,338.29 L343.01,339.2 L341.1,340 L339.05,341.47 L336.88,342.69 L334.4,343.3 L333.26,341.19 L333.17,338.63 L331.6,336.7 L330.5,334.72 L329.42,332.72 L327.8,331.1 L326.79,329.09 L324.87,327.59 L324.05,325.46 L323.3,323.3 L322.9,321.11 L322.61,318.89 L322.2,316.7 L323.25,314.65 L323.82,312.33 L325.6,310.7 L327.69,309.28 L329.12,307.14 L331.1,305.6 L333.4,305.54 L335.44,307.1 L337.8,306.7 L339.94,306.58 L341.61,305.08 L343.79,305.08 L345.6,304 L347.63,304.23 L349.58,303.46 L351.58,303.28 L353.6,303.43 L355.6,303.3 L357.27,301.88 L359.68,302.19 L361.07,300.11 L363.3,300 L365.1,298.22 L365.83,295.58 L368,294.1 L368.99,292.16 L369.11,290.07 L369.79,288.08 L369.4,285.9 L370.39,283.53 L370.98,281.08 L370.9,278.5 L372.91,276.91 L375.4,276.3 L374.81,274.38 L373.9,272.6 L376.9,272.6 L377.16,275.32 L378.3,277.8 L380.2,277.17 L382,276.3 L383.46,277.84 L385,279.3 L386.92,278.22 L388,276.3 L390.17,275.2 L391.7,273.3 L392.25,271.05 L393.1,268.9 L394.42,267.15 L395.21,265.19 L395.4,263 L398.3,260.7Z" fill="#7ca8e4"/>
<path d="M334.4,343.3 L336.88,342.69 L339.05,341.47 L341.1,340 L343.01,339.2 L344.87,338.29 L346.96,337.99 L348.9,337.3 L349.87,335.32 L351.49,333.73 L352.2,331.6 L354.21,331.14 L356.26,331.26 L358.31,331.28 L360.38,331.65 L362.37,330.86 L364.4,330.7 L366.66,330.58 L368.81,331.56 L371.06,331.56 L373.3,331.6 L375.02,329.92 L377.57,329.44 L379.59,328.19 L381.1,326.2 L383.25,325.78 L385.26,325.04 L386.83,323.3 L388.9,322.7 L390.82,323.22 L392.75,323.64 L394.73,323.44 L396.7,323.3 L398.32,321.62 L399.55,319.55 L401.58,318.28 L403.3,316.7 L405.13,317.24 L406.91,318.08 L408.9,317.8 L410.9,319.24 L413.38,319.23 L415.6,320 L418.46,320.02 L421.1,318.9 L421.07,316.05 L421.8,313.3 L420.4,310 L422.92,310.01 L425.34,310.71 L427.8,311.1 L429.8,311.93 L431.09,313.58 L432.93,314.6 L434.55,315.87 L435.6,317.8 L437.66,319.18 L439.67,320.61 L441.1,322.7 L443.1,322.73 L444.94,323.73 L447.07,322.94 L448.9,324 L450.44,325.27 L452.2,326.2 L450.95,327.92 L449.01,328.62 L447,329.21 L445.6,330.7 L447.21,331.99 L449.46,331.68 L451.1,332.9 L449.55,334.28 L447.7,335.37 L446.7,337.3 L444.76,338.04 L443.63,339.75 L442.2,341.1 L441.19,342.95 L441.66,345 L440.67,346.85 L441.1,348.9 L440.07,351.05 L439.5,353.37 L437.98,355.34 L437.8,357.8 L435.67,359.31 L433.3,360.4 L431.14,361.28 L429.47,362.84 L427.8,364.4 L425.55,365.15 L423.3,364.4 L421.84,366.14 L419.89,367.08 L417.8,367.8 L417.27,369.71 L416.51,371.54 L415.6,373.3 L413.38,373.71 L411.14,373.93 L408.83,373.46 L406.57,373.46 L404.4,374.4 L402.7,375.48 L400.43,375.2 L398.9,376.7 L397.03,375.85 L395.11,375.18 L393.07,374.91 L391.1,374.4 L390.04,372.31 L389.94,369.9 L388.9,367.8 L388.15,365.94 L386.89,364.28 L386.7,362.2 L384.66,361.7 L383.02,360.35 L381.1,359.6 L379.14,359.58 L377.16,359.01 L375.22,359.22 L373.3,360 L371.4,358.97 L370.6,356.83 L368.9,355.6 L366.73,356.32 L364.41,355.53 L362.22,356.03 L359.98,356.09 L357.8,356.7 L355.61,357.31 L353.37,357.55 L351.1,357.66 L348.9,358.2 L346.84,358.17 L344.96,358.92 L342.95,359.1 L341.1,360 L338.99,358.89 L336.48,358.99 L334.4,357.8 L332.23,357.71 L330.34,356.54 L328.07,356.83 L326.2,355.6 L326.6,353.38 L326.85,351.16 L326.7,348.9 L328.67,348.37 L329.49,346.27 L330.91,344.98 L333.17,344.84 L334.4,343.3Z" fill="#87b3ed"/>
<path d="M506.7,254.4 L509.41,253.56 L511.9,252.2 L514.2,252.14 L516.31,251.23 L518.5,250.7 L520.74,251.47 L523,252.2 L524.6,253.82 L525.33,256.18 L527.4,257.4 L529.7,257.42 L531.9,258.1 L534.42,259.14 L536.3,261.1 L538.09,259.76 L540.06,258.76 L542.2,258.1 L543.95,257.12 L545.76,256.3 L547.52,255.34 L549.6,255.2 L551.37,254.38 L553.21,253.81 L555.18,253.66 L557,253 L559.41,251.41 L562.2,250.7 L564.4,253 L566.43,254.42 L567.4,256.7 L568.36,258.55 L568.33,260.65 L568.9,262.6 L570.49,263.94 L571.57,265.8 L573.3,267 L574.49,268.61 L576.39,269.36 L577.8,270.7 L579.75,272.15 L580.7,274.4 L581.9,275.9 L582.28,277.93 L581.38,279.88 L581.5,281.9 L580.49,284.57 L579,287 L579.23,289.3 L578.5,291.5 L577.26,292.96 L576,294.4 L576.11,296.9 L576.23,299.4 L576.3,301.9 L577.11,303.72 L577.8,305.6 L577.4,307.59 L576.3,309.3 L573.7,309.11 L571.1,309 L568.79,309.02 L566.7,310 L565.44,311.64 L565.6,313.7 L564.19,315.42 L562.05,316.32 L560.7,318.1 L559.31,320.21 L558.5,322.6 L556.15,323.89 L554.1,325.6 L552.19,327.57 L549.6,328.5 L547.54,329.64 L545.2,329.3 L543.01,330.18 L540.7,330.7 L541.02,332.92 L540.93,335.17 L541,337.4 L538.3,337.53 L535.6,337.4 L532.6,335.9 L531.17,338.2 L529.6,340.4 L527.4,341.1 L526.51,338.54 L525.9,335.9 L524.86,334.27 L523.14,333.21 L522.2,331.5 L521.67,329.46 L520,327.84 L520,325.6 L518.51,324.05 L517.32,322.29 L516.3,320.4 L513.86,321.7 L511.1,321.9 L508.71,321.02 L506.11,321.2 L503.7,320.4 L501.98,318.77 L500.15,317.31 L497.8,316.7 L495.7,315.51 L494.1,313.7 L492.57,312.06 L490.4,311.5 L486.7,311.5 L487.58,309.61 L487.46,307.6 L487.4,305.6 L489.91,305.76 L492.4,305.71 L494.8,304.8 L496.38,302.68 L498.5,301.1 L497.8,297.4 L500.12,296.08 L502.2,294.4 L502.49,292.1 L501.5,290 L500.02,288.04 L497.8,287 L496.03,285.07 L494.1,283.3 L493.3,279.6 L490.86,278.97 L488.9,277.4 L487.08,276.28 L485.89,274.29 L483.7,273.7 L483,270.7 L483.4,268.45 L484.67,266.64 L485.9,264.8 L487.43,263.47 L489.37,262.87 L491.1,261.9 L493.05,259.95 L495.6,258.9 L497.71,258.24 L499.3,256.7 L501.78,255.88 L504.4,255.9 L506.7,254.4Z" fill="#6b98d8"/>
<path d="M581.9,275.9 L583.92,274.84 L585.9,273.7 L586.43,271.52 L586.7,269.3 L590.4,269.3 L591.1,273 L592.94,274 L594.89,274.55 L597,274.4 L598.68,276.15 L601.11,276.68 L603,278.1 L604.64,279.74 L606.99,279.99 L608.9,281.1 L610.76,280.08 L612.61,279.03 L614.8,278.9 L616.28,281.11 L617.8,283.3 L620.38,283.26 L622.81,283.95 L625.2,284.8 L627.32,286.06 L629.6,287 L629.94,289.02 L631.1,290.7 L632.63,292.05 L634.9,292.13 L636.3,293.7 L638.09,292.52 L640.14,292.32 L642.2,292.2 L645.9,292.2 L644.38,294.4 L643,296.7 L643.49,298.7 L644.51,300.4 L645.9,301.9 L645.99,304.32 L647.4,306.3 L646.06,307.68 L644.77,309.09 L643.7,310.7 L642.47,312.43 L640.98,313.91 L639.3,315.2 L637.21,316.38 L634.82,316.61 L632.6,317.4 L633.45,319.22 L634.5,320.93 L635.6,322.6 L634.8,325.6 L637.09,326.17 L639.3,326.95 L641.5,327.8 L643,325.6 L641.5,328.5 L639.22,328.67 L637.09,327.53 L634.8,327.8 L633.95,329.6 L632.98,331.35 L632.16,333.17 L631.9,335.2 L632.6,338.9 L634.58,339.33 L636.3,340.4 L637.4,342.74 L637.64,345.26 L637.8,347.8 L638.39,349.89 L639.68,351.52 L641.2,353 L640.43,354.77 L639.01,356.19 L638.5,358.1 L637.76,360.21 L636.04,361.85 L635.6,364.1 L636.1,366.34 L635.3,368.5 L634.33,370.65 L634.1,373 L632.1,372.23 L630.1,373.13 L628.1,373 L625.62,372.56 L623.05,372.58 L620.7,371.5 L618.54,372.09 L616.34,372.39 L614.1,372.2 L613.1,369.56 L611.9,367 L609.97,366.07 L608.07,365.06 L605.9,364.8 L604.38,363.27 L603.63,361.19 L602.2,359.6 L600.87,357.66 L599.16,356.17 L597,355.2 L595.13,353.22 L594.1,350.7 L593.59,348.65 L592.81,346.7 L591.9,344.8 L591.16,342.95 L591.09,340.82 L589.69,339.23 L588.9,337.4 L588.51,335.33 L589,333.14 L588.21,331.13 L587.39,329.13 L587.4,327 L585.93,325.73 L584.93,324.07 L583.7,322.6 L580.7,321.1 L580.26,319.04 L581.4,317.19 L581.5,315.2 L580.48,313.48 L578.81,312.33 L578.02,310.41 L576.3,309.3 L577.4,307.59 L577.8,305.6 L577.11,303.72 L576.3,301.9 L576.23,299.4 L576.11,296.9 L576,294.4 L577.26,292.96 L578.5,291.5 L579.23,289.3 L579,287 L580.49,284.57 L581.5,281.9 L581.38,279.88 L582.28,277.93 L581.9,275.9Z" fill="#6794d5"/>
<path d="M614.1,372.2 L611.49,371.93 L608.9,371.5 L606.61,372.51 L604.4,373.7 L603.38,376.21 L603.7,378.9 L601.99,379.95 L600.23,380.89 L598.5,381.9 L596.5,382.23 L594.68,383.32 L592.6,383.3 L591.09,384.79 L589.6,386.3 L589.16,388.24 L588.67,390.18 L588.9,392.2 L589.03,394.33 L588.2,396.21 L587.4,398.1 L589.6,399.6 L588.62,401.56 L586.7,402.6 L585.81,404.71 L585.9,407 L583.58,406.59 L581.2,407.53 L578.9,406.7 L576.54,406.31 L574.31,406.7 L572.2,407.8 L570.09,407.92 L568.03,408.35 L566,408.9 L564.78,411.1 L563.31,413.08 L561.1,414.4 L558.89,414.96 L556.7,415.6 L554.31,416.5 L551.8,416 L551.53,414 L551.58,411.97 L551.1,410 L549.6,407 L548.37,404.65 L546.7,402.6 L546.85,400.18 L548.1,398.1 L549.75,396.8 L551.79,396.81 L553.62,396.1 L555.6,395.9 L556.44,393.78 L556.3,391.5 L554.72,390.24 L552.91,389.36 L551.1,388.5 L548.95,386.97 L546.7,385.6 L545.1,384.38 L542.95,384.09 L541.5,382.6 L540.31,380.04 L539.3,377.4 L537.67,375.45 L537,373 L536.61,370.73 L536,368.5 L536.39,365.88 L537,363.3 L539.23,363.42 L541.45,362.83 L543.67,363.8 L545.9,363.3 L546.06,360.63 L545.2,358.1 L546.33,355.99 L547,353.7 L544.85,352.62 L543.4,350.7 L543.33,348.67 L542.92,346.66 L542.7,344.64 L543,342.6 L544.72,341.12 L545.2,338.9 L544.77,336.47 L542.31,335.15 L542.33,332.47 L540.7,330.7 L543.01,330.18 L545.2,329.3 L547.54,329.64 L549.6,328.5 L552.19,327.57 L554.1,325.6 L556.15,323.89 L558.5,322.6 L559.31,320.21 L560.7,318.1 L562.05,316.32 L564.19,315.42 L565.6,313.7 L565.44,311.64 L566.7,310 L568.79,309.02 L571.1,309 L573.7,309.11 L576.3,309.3 L578.02,310.41 L578.81,312.33 L580.48,313.48 L581.5,315.2 L581.4,317.19 L580.26,319.04 L580.7,321.1 L583.7,322.6 L584.93,324.07 L585.93,325.73 L587.4,327 L587.39,329.13 L588.21,331.13 L589,333.14 L588.51,335.33 L588.9,337.4 L589.69,339.23 L591.09,340.82 L591.16,342.95 L591.9,344.8 L592.81,346.7 L593.59,348.65 L594.1,350.7 L595.13,353.22 L597,355.2 L599.16,356.17 L600.87,357.66 L602.2,359.6 L603.63,361.19 L604.38,363.27 L605.9,364.8 L608.07,365.06 L609.97,366.07 L611.9,367 L613.1,369.56 L614.1,372.2Z" fill="#25509a"/>
<path d="M537,373 L534.81,373.29 L532.62,373.67 L530.4,373.7 L528.25,373.89 L526.41,372.37 L524.11,373.35 L522.2,372.2 L521.47,370.23 L521.33,368.04 L520,366.3 L517.98,364.87 L517,362.6 L515.04,362.28 L513.09,361.95 L511.1,361.9 L508.1,359.6 L506.23,360.59 L504.19,360.33 L502.2,360.4 L499.78,359.71 L497.26,359.74 L494.8,359.3 L492.77,359.31 L490.97,360.57 L488.9,360.4 L486.3,360.82 L483.7,360.4 L483.55,363.17 L482.2,365.6 L483.29,367.8 L484.4,370 L483.05,371.99 L483,374.4 L483.84,376.46 L484.54,378.59 L485.9,380.4 L485.85,382.62 L485.04,384.76 L485.2,387 L482.7,388.03 L480,387.8 L477.8,388.28 L475.53,387.82 L473.3,387.89 L471.1,388.4 L468.69,389.06 L466.37,390.11 L463.8,390 L461.79,389.36 L459.74,389.14 L457.65,389.5 L455.6,389.3 L453.54,389.38 L451.48,389.49 L449.64,388.14 L447.59,388.15 L445.6,387.8 L444.19,385.81 L442.2,384.4 L440.09,385.73 L437.8,386.7 L435.6,386.1 L433.31,386.73 L431.1,386.2 L429.25,385.09 L427.1,384.9 L425.93,382.37 L425.6,379.6 L427.36,377.84 L427.27,375.12 L428.9,373.3 L428.95,371.03 L427.69,368.93 L427.67,366.67 L427.8,364.4 L429.47,362.84 L431.14,361.28 L433.3,360.4 L435.67,359.31 L437.8,357.8 L437.98,355.34 L439.5,353.37 L440.07,351.05 L441.1,348.9 L440.67,346.85 L441.66,345 L441.19,342.95 L442.2,341.1 L443.63,339.75 L444.76,338.04 L446.7,337.3 L447.7,335.37 L449.55,334.28 L451.1,332.9 L449.46,331.68 L447.21,331.99 L445.6,330.7 L447,329.21 L449.01,328.62 L450.95,327.92 L452.2,326.2 L454.45,325.42 L456.7,326.2 L458.36,327.13 L459.73,328.58 L461.26,329.73 L463.3,330 L465.1,328.5 L465.9,326.3 L466.9,324.08 L466.4,321.7 L467.52,319.74 L467.8,317.5 L469.92,316.79 L471.5,315.2 L473.63,313.95 L476.1,313.8 L477.92,312.79 L479.8,311.9 L481.68,311.59 L483.5,311 L486.7,311.5 L490.4,311.5 L492.57,312.06 L494.1,313.7 L495.7,315.51 L497.8,316.7 L500.15,317.31 L501.98,318.77 L503.7,320.4 L506.11,321.2 L508.71,321.02 L511.1,321.9 L513.86,321.7 L516.3,320.4 L517.32,322.29 L518.51,324.05 L520,325.6 L520,327.84 L521.67,329.46 L522.2,331.5 L523.14,333.21 L524.86,334.27 L525.9,335.9 L526.51,338.54 L527.4,341.1 L529.6,340.4 L531.17,338.2 L532.6,335.9 L535.6,337.4 L538.3,337.53 L541,337.4 L540.93,335.17 L541.02,332.92 L540.7,330.7 L542.33,332.47 L542.31,335.15 L544.77,336.47 L545.2,338.9 L544.72,341.12 L543,342.6 L542.7,344.64 L542.92,346.66 L543.33,348.67 L543.4,350.7 L544.85,352.62 L547,353.7 L546.33,355.99 L545.2,358.1 L546.06,360.63 L545.9,363.3 L543.67,363.8 L541.45,362.83 L539.23,363.42 L537,363.3 L536.39,365.88 L536,368.5 L536.61,370.73 L537,373Z" fill="#2c579f"/>
<path d="M463.8,390 L466.37,390.11 L468.69,389.06 L471.1,388.4 L473.3,387.89 L475.53,387.82 L477.8,388.28 L480,387.8 L482.7,388.03 L485.2,387 L485.04,384.76 L485.85,382.62 L485.9,380.4 L484.54,378.59 L483.84,376.46 L483,374.4 L483.05,371.99 L484.4,370 L483.29,367.8 L482.2,365.6 L483.55,363.17 L483.7,360.4 L486.3,360.82 L488.9,360.4 L490.97,360.57 L492.77,359.31 L494.8,359.3 L497.26,359.74 L499.78,359.71 L502.2,360.4 L504.19,360.33 L506.23,360.59 L508.1,359.6 L511.1,361.9 L513.09,361.95 L515.04,362.28 L517,362.6 L517.98,364.87 L520,366.3 L521.33,368.04 L521.47,370.23 L522.2,372.2 L524.11,373.35 L526.41,372.37 L528.25,373.89 L530.4,373.7 L532.62,373.67 L534.81,373.29 L537,373 L537.67,375.45 L539.3,377.4 L540.31,380.04 L541.5,382.6 L542.95,384.09 L545.1,384.38 L546.7,385.6 L548.95,386.97 L551.1,388.5 L552.91,389.36 L554.72,390.24 L556.3,391.5 L556.44,393.78 L555.6,395.9 L553.62,396.1 L551.79,396.81 L549.75,396.8 L548.1,398.1 L546.85,400.18 L546.7,402.6 L548.37,404.65 L549.6,407 L551.1,410 L551.58,411.97 L551.53,414 L551.8,416 L550.34,417.38 L548.92,418.81 L546.8,419.4 L545.6,421.1 L543.39,421.92 L541.12,422.52 L538.9,423.3 L536.64,423.99 L534.52,425.08 L532.2,425.6 L530.28,426.13 L528.3,426.47 L526.7,427.8 L524.7,428.11 L522.99,426.97 L521.1,426.7 L518.98,427.79 L516.56,427.93 L514.4,428.9 L512.11,429.82 L510.33,431.75 L507.8,432.2 L506.47,433.84 L504.42,434.41 L502.46,435.1 L501.1,436.7 L499.09,436.99 L497.24,437.69 L495.6,438.9 L493.95,440.17 L491.95,440.59 L490,441.1 L490.44,439.05 L490.08,437.11 L489.87,435.15 L488.9,433.3 L487.32,431.83 L485.06,432.1 L483.3,431.1 L481.81,429.43 L479.45,429.2 L477.8,427.8 L478.62,425.97 L478.73,423.86 L480,422.2 L479.8,419.82 L478.3,417.88 L477.8,415.6 L476.25,414.21 L475.95,411.98 L474.02,410.85 L473.3,408.9 L472.28,407.08 L471.89,405.09 L470.9,403.26 L471.1,401.1 L469.66,399.34 L467.09,399.48 L465.6,397.8 L465.3,395.82 L464.5,393.95 L464.29,391.94 L463.8,390Z" fill="#77a3e0"/>
<path d="M463.8,390 L464.29,391.94 L464.5,393.95 L465.3,395.82 L465.6,397.8 L467.09,399.48 L469.66,399.34 L471.1,401.1 L470.9,403.26 L471.89,405.09 L472.28,407.08 L473.3,408.9 L474.02,410.85 L475.95,411.98 L476.25,414.21 L477.8,415.6 L478.3,417.88 L479.8,419.82 L480,422.2 L478.73,423.86 L478.62,425.97 L477.8,427.8 L479.45,429.2 L481.81,429.43 L483.3,431.1 L485.06,432.1 L487.32,431.83 L488.9,433.3 L489.87,435.15 L490.08,437.11 L490.44,439.05 L490,441.1 L488.11,443.05 L487.5,445.7 L485.86,447.16 L483.7,447.6 L483.77,449.75 L482.4,451.4 L479.8,450.2 L477.9,448.9 L476.31,450.47 L476.63,452.91 L475.3,454.6 L472.1,455.9 L470.6,453.4 L472.8,451.4 L470.74,451.59 L468.98,450.36 L467,450.2 L464.4,447.6 L462.5,444.4 L461.78,446.75 L460.6,448.9 L458.38,449.29 L456.7,450.8 L453.5,450.2 L451.57,448.52 L450.3,446.3 L448.29,445.87 L446.5,446.9 L444.5,448.9 L443.68,450.75 L442.23,452.21 L441.3,454 L439.79,452.13 L437.5,451.4 L434.99,450.32 L432.3,449.8 L429.62,449.63 L427.2,450.8 L424.93,451.43 L423.22,453.33 L420.8,453.6 L418.71,452.82 L416.54,453.12 L414.4,453.1 L412.22,453.07 L410.06,452.92 L408,452.1 L406.24,450.93 L404.17,450.71 L402.2,450.2 L400.61,448.49 L398.55,447.62 L396.4,446.9 L394.91,445.03 L392.6,444.4 L390,443.4 L392.4,441.1 L394.7,440.1 L396.9,438.9 L395.4,437.1 L393.3,435.62 L390.9,434.7 L393.18,434.48 L395.4,433.9 L397.41,433.75 L399.25,435.09 L401.3,434.6 L403.39,434.6 L405.4,435.2 L405,432.2 L403.4,430.58 L401.3,429.7 L399.85,428.18 L397.87,427.75 L396,427.1 L397.87,425.51 L399.72,423.89 L402.2,423.3 L404.66,423.26 L406.8,422.24 L408.9,421.1 L411.27,420.77 L413.22,419.19 L415.6,418.9 L417.62,419.31 L419.43,418.21 L421.4,418.28 L423.3,417.8 L424.82,415.82 L425.23,413.47 L425.6,411.1 L425.19,408.87 L424.78,406.64 L424.4,404.4 L425.7,402.57 L427.35,401.12 L429.3,400 L429.99,397.81 L429.8,395.54 L430,393.3 L429.07,391.27 L428.26,389.2 L428.33,386.83 L427.1,384.9 L429.25,385.09 L431.1,386.2 L433.31,386.73 L435.6,386.1 L437.8,386.7 L440.09,385.73 L442.2,384.4 L444.19,385.81 L445.6,387.8 L447.59,388.15 L449.64,388.14 L451.48,389.49 L453.54,389.38 L455.6,389.3 L457.65,389.5 L459.74,389.14 L461.79,389.36 L463.8,390Z" fill="#92bef8"/>
<path d="M427.1,384.9 L428.33,386.83 L428.26,389.2 L429.07,391.27 L430,393.3 L429.8,395.54 L429.99,397.81 L429.3,400 L427.35,401.12 L425.7,402.57 L424.4,404.4 L424.78,406.64 L425.19,408.87 L425.6,411.1 L425.23,413.47 L424.82,415.82 L423.3,417.8 L421.4,418.28 L419.43,418.21 L417.62,419.31 L415.6,418.9 L413.22,419.19 L411.27,420.77 L408.9,421.1 L406.8,422.24 L404.66,423.26 L402.2,423.3 L399.72,423.89 L397.87,425.51 L396,427.1 L393.9,427 L391.66,427.34 L389.4,427.3 L387.5,428.03 L385.55,428.43 L383.5,428.2 L380.98,427.74 L378.56,428.48 L376.1,428.8 L373.7,428.53 L371.3,428.78 L368.9,428.9 L368.71,426.95 L369.25,424.96 L367.78,423.1 L368.4,421.1 L367.16,419.42 L367.19,417.1 L365.6,415.6 L367.4,414.69 L368.57,412.86 L370.41,412.02 L372.2,411.1 L372.25,408.23 L371.1,405.6 L368.86,404.53 L366.7,403.3 L365.24,401.76 L365.75,399.39 L364.4,397.8 L361.84,396.57 L360,394.4 L359.95,392.44 L359.64,390.52 L359.11,388.63 L358.9,386.7 L357.1,384.41 L354.4,383.3 L352.2,383.82 L350,383.13 L347.8,383.3 L346.49,381.7 L347.03,379.36 L345.6,377.8 L344.48,376.01 L344.47,373.89 L344.39,371.8 L343.3,370 L342.9,367.52 L340.78,365.79 L340.4,363.3 L341.1,360 L342.95,359.1 L344.96,358.92 L346.84,358.17 L348.9,358.2 L351.1,357.66 L353.37,357.55 L355.61,357.31 L357.8,356.7 L359.98,356.09 L362.22,356.03 L364.41,355.53 L366.73,356.32 L368.9,355.6 L370.6,356.83 L371.4,358.97 L373.3,360 L375.22,359.22 L377.16,359.01 L379.14,359.58 L381.1,359.6 L383.02,360.35 L384.66,361.7 L386.7,362.2 L386.89,364.28 L388.15,365.94 L388.9,367.8 L389.94,369.9 L390.04,372.31 L391.1,374.4 L393.07,374.91 L395.11,375.18 L397.03,375.85 L398.9,376.7 L400.43,375.2 L402.7,375.48 L404.4,374.4 L406.57,373.46 L408.83,373.46 L411.14,373.93 L413.38,373.71 L415.6,373.3 L416.51,371.54 L417.27,369.71 L417.8,367.8 L419.89,367.08 L421.84,366.14 L423.3,364.4 L425.55,365.15 L427.8,364.4 L427.67,366.67 L427.69,368.93 L428.95,371.03 L428.9,373.3 L427.27,375.12 L427.36,377.84 L425.6,379.6 L425.93,382.37 L427.1,384.9Z" fill="#87b3ed"/>
<path d="M298.9,361.1 L300.62,362.39 L302.96,362.65 L304.4,364.4 L306.45,365.23 L308.36,366.29 L310,367.8 L309.9,369.8 L310.27,371.74 L310.2,373.74 L311.1,375.6 L311.48,377.88 L310.67,380.02 L311.02,382.29 L310,384.4 L309.28,386.34 L307.8,387.8 L309.63,389.27 L311.94,390.14 L313.3,392.2 L315.45,393.71 L316.9,395.9 L319.02,396.88 L321.3,397.4 L321.05,399.62 L321.4,401.89 L320.63,404.06 L320.6,406.3 L320.68,408.29 L322.46,409.77 L321.78,411.99 L322.8,413.7 L324.49,415.07 L326.63,415.68 L328.63,416.53 L330.2,418.1 L330.51,420.42 L332.37,421.99 L333.1,424.1 L333.57,426.38 L333.39,428.6 L332.02,430.73 L332.4,433 L334.02,434.82 L335.52,436.75 L337.6,438.1 L335.06,438.24 L332.66,439.04 L330.2,439.6 L328.5,438.16 L326.2,438.32 L324.3,437.4 L322.74,438.84 L321.3,440.4 L319.65,438.48 L317.48,437.25 L315.4,435.9 L313.26,435.84 L311.37,436.78 L309.4,437.4 L309.37,435.15 L308.7,433 L306.69,434.42 L304.37,434.88 L302,435.2 L302.6,437.39 L303.2,439.59 L302.8,441.9 L303.72,444.28 L304.43,446.71 L304.3,449.3 L303.86,451.4 L302.56,453.15 L302,455.2 L300.15,456.62 L298.18,457.84 L296.1,458.9 L296.96,461.43 L296.9,464.1 L295.48,465.58 L293.21,465.89 L291.84,467.45 L290.24,468.68 L288.7,470 L288.72,472.57 L287.34,474.86 L287.2,477.4 L284.3,479.6 L281.97,479.78 L279.8,478.9 L280.74,481.45 L281.3,484.1 L282.85,486 L285.11,486.76 L287.2,487.8 L289.03,488.34 L290.83,488.99 L292.62,489.68 L294.6,489.6 L297.11,488.31 L299.1,486.3 L300.69,485.03 L302.33,483.87 L304.31,483.4 L306.06,482.45 L308,481.9 L310.39,481.04 L313.05,481.8 L315.4,480.7 L317.54,480.68 L319.25,479.22 L321.3,478.9 L323.36,480.61 L325.7,481.9 L325.77,484.18 L324.84,486.42 L325.47,488.73 L325.3,491 L323.7,491 L323.03,488.58 L322.7,486.12 L322.8,483.6 L322.5,480.99 L322,478.4 L323.48,476.55 L325.56,475.37 L327.2,473.7 L329.45,472.72 L330.8,470.62 L332.47,468.92 L334.6,467.8 L336.8,466.92 L337.96,464.86 L339.19,462.88 L341.3,461.9 L341.89,459.84 L343.15,458.26 L345.01,457.1 L346.4,455.61 L347.2,453.7 L348.4,451.78 L349.23,449.6 L350.95,448.04 L352.4,446.3 L354.12,444.39 L354.44,441.85 L355.4,439.6 L356.38,437.72 L356.44,435.73 L356.1,433.7 L357.55,431.93 L359.8,431.5 L361.89,431.1 L363.83,430.31 L365.7,429.3 L368.9,428.9 L368.71,426.95 L369.25,424.96 L367.78,423.1 L368.4,421.1 L367.16,419.42 L367.19,417.1 L365.6,415.6 L367.4,414.69 L368.57,412.86 L370.41,412.02 L372.2,411.1 L372.25,408.23 L371.1,405.6 L368.86,404.53 L366.7,403.3 L365.24,401.76 L365.75,399.39 L364.4,397.8 L361.84,396.57 L360,394.4 L359.95,392.44 L359.64,390.52 L359.11,388.63 L358.9,386.7 L357.1,384.41 L354.4,383.3 L352.2,383.82 L350,383.13 L347.8,383.3 L346.49,381.7 L347.03,379.36 L345.6,377.8 L344.48,376.01 L344.47,373.89 L344.39,371.8 L343.3,370 L342.9,367.52 L340.78,365.79 L340.4,363.3 L341.1,360 L338.99,358.89 L336.48,358.99 L334.4,357.8 L332.23,357.71 L330.34,356.54 L328.07,356.83 L326.2,355.6 L325.07,357.3 L323.02,357.68 L322,359.53 L320,360 L317.76,360.34 L315.41,359.98 L313.3,361.1 L311.03,360.93 L309.07,359.36 L306.7,359.6 L304.71,359.76 L302.68,359.75 L301,361.48 L298.9,361.1Z" fill="#6591d2"/>
<path d="M343.5,243.7 L345.75,243.64 L348,243.7 L349.57,244.92 L350.9,246.4 L353.09,245.47 L355.4,244.9 L358.3,243.7 L358.6,246.7 L356.9,249.6 L357.74,251.4 L358.3,253.3 L355.4,255.6 L354.5,257.75 L353.9,260 L352.4,262.2 L351.37,260.42 L350.6,258.5 L349.93,256.67 L349.4,254.8 L347.62,253.26 L345.7,251.9 L343.86,251.33 L342,250.8 L340.6,249.6 L342,246.7Z" fill="#9fcbff"/>
<path d="M445.8,447.6 L447.1,450.2 L448.63,450.75 L450.02,451.65 L451.6,452.1 L453.54,452.97 L455.4,454 L457,454.39 L458.41,455.25 L459.9,455.9 L460.79,457.28 L461.9,458.5 L463.83,457.95 L465.7,457.2 L467.11,457.85 L468.23,458.93 L469.5,459.8 L471.26,460.9 L472.8,462.3 L473.85,460.85 L475.3,459.8 L475.66,461.6 L476.45,463.24 L477.2,464.9 L478.56,466.14 L479.8,467.5 L481.43,468.48 L483.12,469.32 L484.9,470 L486.41,471.09 L487.55,472.55 L488.8,473.9 L489.35,475.37 L489.93,476.82 L490.1,478.4 L489.02,479.92 L488.2,481.6 L489.1,483.01 L490.34,484.13 L491.4,485.4 L493.01,486.44 L494.79,487.16 L496.5,488 L499.1,489.3 L500.99,488.89 L502.9,488.6 L504.61,488.01 L506.37,487.51 L508,486.7 L508.96,485.34 L510.14,484.17 L511.2,482.9 L513.22,483.34 L515.1,484.2 L516.61,483.79 L518.13,483.44 L519.6,482.9 L520.87,481.86 L522.2,480.9 L524.06,480.36 L526.04,480.53 L527.9,480 L529.35,480.59 L530.85,481.05 L532.4,481.3 L533.97,481.64 L535.3,482.65 L536.9,482.9 L536.9,484.8 L535.4,485.44 L533.98,486.24 L532.4,486.7 L532.09,488.46 L531.78,490.23 L531.1,491.9 L531.15,493.63 L531.3,495.34 L531.8,497 L529.81,497.19 L527.91,497.74 L526,498.3 L524.4,498.33 L522.8,498.48 L521.2,498.35 L519.6,498.5 L517.72,499.12 L515.78,499.43 L513.8,499.5 L512.31,498.42 L510.74,497.45 L509.3,496.3 L507.67,495.61 L505.93,495.39 L504.2,495.1 L502.37,496.3 L500.3,497 L499.64,498.88 L499.1,500.8 L497.74,501.91 L495.96,502.29 L494.6,503.4 L493.44,504.59 L492.34,505.82 L491.4,507.2 L488.8,508.5 L486.82,507.93 L484.9,507.2 L483.3,508.13 L481.45,508.4 L479.8,509.2 L478.15,509.9 L476.64,510.89 L475.08,511.76 L473.4,512.4 L471.78,513.29 L470.46,514.62 L468.9,515.6 L468.16,517.06 L467.42,518.51 L467,520.1 L465.67,520.97 L464.59,522.18 L463.05,522.78 L461.9,523.9 L460.04,524.51 L458.34,525.44 L456.7,526.5 L454.2,526.2 L452.24,526.34 L450.3,526.7 L448.31,526.17 L446.5,525.2 L445.03,524.11 L444.01,522.55 L442.6,521.4 L440.88,520.6 L439.4,519.4 L441.3,517.5 L442.76,516.36 L443.9,514.9 L443.5,513.22 L443.41,511.5 L443.2,509.8 L444.07,508.4 L445.2,507.2 L445.3,505.5 L445.3,503.8 L445.2,502.1 L444.43,500.24 L443.9,498.3 L443.03,497 L442.16,495.71 L441.3,494.4 L439.74,493.38 L438.1,492.5 L436.43,492.72 L434.9,493.4 L432.98,492.34 L431.1,491.2 L429.6,490.14 L428.68,488.49 L427.2,487.4 L426.01,486.43 L424.56,485.83 L423.4,484.8 L421.67,484.7 L419.93,485.07 L418.2,484.8 L416.25,484.81 L414.42,485.54 L412.5,485.7 L411.98,484.24 L411.2,482.9 L412.38,481.25 L413.7,479.7 L415.15,479.12 L416.55,478.45 L418.08,478.04 L419.37,477.13 L420.8,476.5 L422.2,475.33 L423.33,473.9 L424.6,472.6 L425.85,471.76 L427.3,471.24 L428.39,470.12 L429.7,469.39 L431.1,468.8 L432.65,467.88 L434.3,467.16 L435.92,466.37 L437.5,465.5 L439.12,464.5 L440.77,463.57 L442.6,463 L444.29,462.35 L445.91,461.49 L447.7,461.1 L446.77,459.14 L445.8,457.2 L446.08,455.5 L445.99,453.8 L445.8,452.1 L445.57,450.6 L445.87,449.1Z" fill="#d9d9d9" stroke="none"/>
<path d="M443.9,509.2 L446.5,510.5 L448.4,512.6 L450.3,516.5 L452.9,521.6 L454.2,526.2" fill="none" stroke="#fff" stroke-width=".7"/>
</g>
<rect x="258" y="549" width="223.5" height="25" fill="url(#mg)"/>
<g font-family="Liberation Sans, sans-serif" font-size="15.3" fill="#000"><text x="258" y="589" text-anchor="middle">0%</text><text x="481" y="589" text-anchor="middle">100%</text></g>
</svg>
<svg class="abs" style="left:700px;top:140px" width="690" height="470" viewBox="700 140 690 470">
<g font-family="Liberation Sans, sans-serif" font-size="15" fill="#666">
<text x="740" y="564.1" text-anchor="end">0</text><line x1="741" x2="753.5" y1="559.50" y2="559.50" stroke="#e0e0e0" stroke-width="1.25"/><text x="740" y="505.0" text-anchor="end">5</text><line x1="741" x2="753.5" y1="500.35" y2="500.35" stroke="#e0e0e0" stroke-width="1.25"/><text x="740" y="445.8" text-anchor="end">10</text><line x1="741" x2="753.5" y1="441.20" y2="441.20" stroke="#e0e0e0" stroke-width="1.25"/><text x="740" y="386.7" text-anchor="end">15</text><line x1="741" x2="753.5" y1="382.05" y2="382.05" stroke="#e0e0e0" stroke-width="1.25"/><text x="740" y="327.5" text-anchor="end">20</text><line x1="741" x2="753.5" y1="322.90" y2="322.90" stroke="#e0e0e0" stroke-width="1.25"/><text x="740" y="268.4" text-anchor="end">25</text><line x1="741" x2="753.5" y1="263.75" y2="263.75" stroke="#e0e0e0" stroke-width="1.25"/><text x="740" y="209.2" text-anchor="end">30</text><line x1="741" x2="753.5" y1="204.60" y2="204.60" stroke="#e0e0e0" stroke-width="1.25"/>
<line x1="753.5" x2="753.5" y1="204.6" y2="572.0" stroke="#e0e0e0" stroke-width="1.25"/>
<rect x="929.04" y="483.79" width="29.8" height="75.71" fill="#ff004e"/><rect x="962.16" y="531.23" width="29.8" height="28.27" fill="#02608c"/><rect x="1011.84" y="430.79" width="29.8" height="128.71" fill="#ff004e"/><rect x="1044.96" y="487.46" width="29.8" height="72.04" fill="#02608c"/><rect x="1094.64" y="414.11" width="29.8" height="145.39" fill="#ff004e"/><rect x="1127.76" y="480.36" width="29.8" height="79.14" fill="#02608c"/><rect x="1177.44" y="258.07" width="29.8" height="301.43" fill="#ff004e"/><rect x="1210.56" y="446.29" width="29.8" height="113.21" fill="#02608c"/><rect x="1260.24" y="382.05" width="29.8" height="177.45" fill="#ff004e"/><rect x="1293.36" y="500.35" width="29.8" height="59.15" fill="#02608c"/><text x="794.9" y="585" text-anchor="middle">13-17</text><text x="877.7" y="585" text-anchor="middle">18-24</text><text x="960.5" y="585" text-anchor="middle">25-34</text><text x="1043.3" y="585" text-anchor="middle">35-44</text><text x="1126.1" y="585" text-anchor="middle">45-54</text><text x="1208.9" y="585" text-anchor="middle">55-64</text><text x="1291.7" y="585" text-anchor="middle">65+</text>
<rect x="915.2" y="160" width="50" height="15" fill="#ff004e"/>
<text x="972.3" y="172">жінки</text>
<rect x="1022" y="160" width="50" height="15" fill="#02608c"/>
<text x="1079.3" y="172">чоловіки</text>
</g></svg>
<svg class="abs" style="left:0;top:690px" width="679.5" height="390" viewBox="0 690 679.5 390">
<defs><linearGradient id="lg" gradientUnits="userSpaceOnUse" x1="0" y1="759.8" x2="0" y2="1027.4"><stop offset="0" stop-color="#7fd4fa" stop-opacity=".5"/><stop offset="1" stop-color="#7fd4fa" stop-opacity=".1"/></linearGradient></defs>
<g font-family="Liberation Sans, sans-serif" font-size="15" fill="#666">
<line x1="81.3" x2="675.8" y1="1027.40" y2="1027.40" stroke="#e1e1e1" stroke-width="1.1"/><line x1="81.3" x2="675.8" y1="993.95" y2="993.95" stroke="#e1e1e1" stroke-width="1.1"/><line x1="81.3" x2="675.8" y1="960.50" y2="960.50" stroke="#e1e1e1" stroke-width="1.1"/><line x1="81.3" x2="675.8" y1="927.05" y2="927.05" stroke="#e1e1e1" stroke-width="1.1"/><line x1="81.3" x2="675.8" y1="893.60" y2="893.60" stroke="#e1e1e1" stroke-width="1.1"/><line x1="81.3" x2="675.8" y1="860.15" y2="860.15" stroke="#e1e1e1" stroke-width="1.1"/><line x1="81.3" x2="675.8" y1="826.70" y2="826.70" stroke="#e1e1e1" stroke-width="1.1"/><line x1="81.3" x2="675.8" y1="793.25" y2="793.25" stroke="#e1e1e1" stroke-width="1.1"/><line x1="81.3" x2="675.8" y1="759.80" y2="759.80" stroke="#e1e1e1" stroke-width="1.1"/>
<line x1="87.5" x2="87.5" y1="759.8" y2="1027.4" stroke="#e6e6e6" stroke-width="1.25"/>
<line x1="189.5" x2="189.5" y1="759.8" y2="1039.4" stroke="#bcbcbc" stroke-width="1.3"/>
<path d="M87.95,960.50 C96.06,947.12 105.17,942.18 108.22,927.05 C121.38,861.90 120.39,759.80 128.49,759.80 C136.60,759.80 138.68,860.47 148.77,927.05 C154.90,967.51 155.25,1019.82 169.04,1027.40 C179.57,1027.40 200.67,989.91 209.58,960.50 C225.00,909.63 215.75,873.25 229.85,826.70 C231.97,819.73 248.38,819.51 250.13,826.70 C264.60,886.41 255.92,934.24 270.40,993.95 C272.14,1001.14 285.13,998.52 290.67,993.95 C301.35,985.14 305.62,975.12 310.94,960.50 C329.95,908.22 339.12,826.70 351.49,826.70 C363.45,826.70 361.06,942.85 371.76,960.50 C377.28,969.61 379.46,914.34 392.03,893.60 C395.68,887.58 409.62,886.97 412.30,893.60 C425.84,927.11 420.84,974.59 432.57,993.95 C437.06,1001.35 442.16,969.31 452.85,960.50 C458.38,955.93 466.35,964.22 473.12,960.50 C490.67,950.84 505.41,917.97 513.66,927.05 C529.74,944.73 528.47,1027.40 533.93,1027.40 C544.69,1000.77 539.47,899.65 554.21,826.70 C555.69,819.37 572.74,819.51 574.48,826.70 C588.95,886.41 581.59,928.80 594.75,993.95 C597.81,1009.08 604.34,1018.59 615.02,1027.40 C620.56,1027.40 632.61,1027.40 635.29,1027.40 C648.83,993.89 645.93,935.00 655.57,927.05 C662.15,921.62 667.73,967.19 675.84,993.95 L675.84,1027.40 L87.95,1027.40Z" fill="url(#lg)"/>
<path d="M87.95,960.50 C96.06,947.12 105.17,942.18 108.22,927.05 C121.38,861.90 120.39,759.80 128.49,759.80 C136.60,759.80 138.68,860.47 148.77,927.05 C154.90,967.51 155.25,1019.82 169.04,1027.40 C179.57,1027.40 200.67,989.91 209.58,960.50 C225.00,909.63 215.75,873.25 229.85,826.70 C231.97,819.73 248.38,819.51 250.13,826.70 C264.60,886.41 255.92,934.24 270.40,993.95 C272.14,1001.14 285.13,998.52 290.67,993.95 C301.35,985.14 305.62,975.12 310.94,960.50 C329.95,908.22 339.12,826.70 351.49,826.70 C363.45,826.70 361.06,942.85 371.76,960.50 C377.28,969.61 379.46,914.34 392.03,893.60 C395.68,887.58 409.62,886.97 412.30,893.60 C425.84,927.11 420.84,974.59 432.57,993.95 C437.06,1001.35 442.16,969.31 452.85,960.50 C458.38,955.93 466.35,964.22 473.12,960.50 C490.67,950.84 505.41,917.97 513.66,927.05 C529.74,944.73 528.47,1027.40 533.93,1027.40 C544.69,1000.77 539.47,899.65 554.21,826.70 C555.69,819.37 572.74,819.51 574.48,826.70 C588.95,886.41 581.59,928.80 594.75,993.95 C597.81,1009.08 604.34,1018.59 615.02,1027.40 C620.56,1027.40 632.61,1027.40 635.29,1027.40 C648.83,993.89 645.93,935.00 655.57,927.05 C662.15,921.62 667.73,967.19 675.84,993.95" fill="none" stroke="#7fd4fa" stroke-width="2.5" stroke-linejoin="round"/>
<circle cx="87.95" cy="960.50" r="3.7" fill="#fff" stroke="#7fd4fa" stroke-width="2.2"/><circle cx="108.22" cy="927.05" r="3.7" fill="#fff" stroke="#7fd4fa" stroke-width="2.2"/><circle cx="128.49" cy="759.80" r="3.7" fill="#fff" stroke="#7fd4fa" stroke-width="2.2"/><circle cx="148.77" cy="927.05" r="3.7" fill="#fff" stroke="#7fd4fa" stroke-width="2.2"/><circle cx="169.04" cy="1027.40" r="3.7" fill="#fff" stroke="#7fd4fa" stroke-width="2.2"/><circle cx="209.58" cy="960.50" r="3.7" fill="#fff" stroke="#7fd4fa" stroke-width="2.2"/><circle cx="229.85" cy="826.70" r="3.7" fill="#fff" stroke="#7fd4fa" stroke-width="2.2"/><circle cx="250.13" cy="826.70" r="3.7" fill="#fff" stroke="#7fd4fa" stroke-width="2.2"/><circle cx="270.40" cy="993.95" r="3.7" fill="#fff" stroke="#7fd4fa" stroke-width="2.2"/><circle cx="290.67" cy="993.95" r="3.7" fill="#fff" stroke="#7fd4fa" stroke-width="2.2"/><circle cx="310.94" cy="960.50" r="3.7" fill="#fff" stroke="#7fd4fa" stroke-width="2.2"/><circle cx="351.49" cy="826.70" r="3.7" fill="#fff" stroke="#7fd4fa" stroke-width="2.2"/><circle cx="371.76" cy="960.50" r="3.7" fill="#fff" stroke="#7fd4fa" stroke-width="2.2"/><circle cx="392.03" cy="893.60" r="3.7" fill="#fff" stroke="#7fd4fa" stroke-width="2.2"/><circle cx="412.30" cy="893.60" r="3.7" fill="#fff" stroke="#7fd4fa" stroke-width="2.2"/><circle cx="432.57" cy="993.95" r="3.7" fill="#fff" stroke="#7fd4fa" stroke-width="2.2"/><circle cx="452.85" cy="960.50" r="3.7" fill="#fff" stroke="#7fd4fa" stroke-width="2.2"/><circle cx="473.12" cy="960.50" r="3.7" fill="#fff" stroke="#7fd4fa" stroke-width="2.2"/><circle cx="513.66" cy="927.05" r="3.7" fill="#fff" stroke="#7fd4fa" stroke-width="2.2"/><circle cx="533.93" cy="1027.40" r="3.7" fill="#fff" stroke="#7fd4fa" stroke-width="2.2"/><circle cx="554.21" cy="826.70" r="3.7" fill="#fff" stroke="#7fd4fa" stroke-width="2.2"/><circle cx="574.48" cy="826.70" r="3.7" fill="#fff" stroke="#7fd4fa" stroke-width="2.2"/><circle cx="594.75" cy="993.95" r="3.7" fill="#fff" stroke="#7fd4fa" stroke-width="2.2"/><circle cx="615.02" cy="1027.40" r="3.7" fill="#fff" stroke="#7fd4fa" stroke-width="2.2"/><circle cx="635.29" cy="1027.40" r="3.7" fill="#fff" stroke="#7fd4fa" stroke-width="2.2"/><circle cx="655.57" cy="927.05" r="3.7" fill="#fff" stroke="#7fd4fa" stroke-width="2.2"/><circle cx="675.84" cy="993.95" r="3.7" fill="#fff" stroke="#7fd4fa" stroke-width="2.2"/>
<text x="76" y="1031.8" text-anchor="end">1</text><text x="76" y="998.4" text-anchor="end">2</text><text x="76" y="964.9" text-anchor="end">3</text><text x="76" y="931.5" text-anchor="end">4</text><text x="76" y="898.0" text-anchor="end">5</text><text x="76" y="864.6" text-anchor="end">6</text><text x="76" y="831.1" text-anchor="end">7</text><text x="76" y="797.6" text-anchor="end">8</text><text x="76" y="764.2" text-anchor="end">9</text><text x="189.3" y="1052.6" text-anchor="middle">Jun 6, 2021</text><text x="331.2" y="1052.6" text-anchor="middle">Jun 13, 2021</text><text x="473.1" y="1052.6" text-anchor="middle">Jun 20, 2021</text><text x="615.0" y="1052.6" text-anchor="middle">Jun 27, 2021</text>
<rect x="249" y="715" width="50" height="15" fill="#b9e7fc" stroke="#7fd4fa" stroke-width="2.4"/>
<text x="306.5" y="727.3">Кількість нових оголошень</text>
</g></svg>
<div class="abs" id="ttl">Сторінки (1)</div>
<div class="abs" id="tbl">
<div class="abs" id="th"></div><div class="abs" id="sb"></div>
<div class="abs t" style="left:17.5px;top:11.5px;color:#222">Назва сторінки</div>
<div class="abs t" style="right:25px;top:11.5px;font-weight:bold;color:#222">Кількість реклам</div>
<svg class="abs" style="left:27px;top:78px" width="28" height="26" viewBox="0 0 28 26"><path d="M3.75,23.7 V11.5 M18.6,23.7 V11.5" fill="none" stroke="#5a0e8c" stroke-width="4.5"/><path d="M2.8,9.6 L11.5,17 L23.7,3.9" fill="none" stroke="#50d13c" stroke-width="4.4" stroke-linecap="round" stroke-linejoin="round"/></svg>
<div class="abs t" style="left:78px;top:81.3px">Політична партія «ЗА МАЙБУТНЄ»</div>
<div class="abs t" style="right:25px;top:81.3px;font-weight:bold">102</div>
</div>
</body></html>
